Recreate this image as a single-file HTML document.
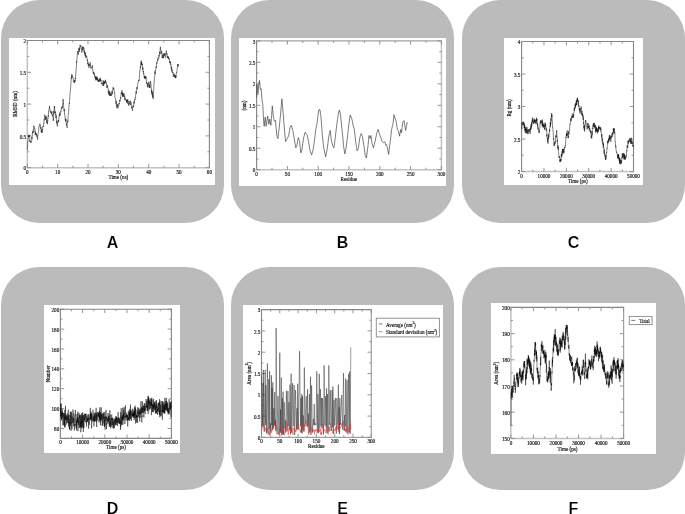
<!DOCTYPE html>
<html><head><meta charset="utf-8">
<style>
html,body{margin:0;padding:0;background:#fff;width:685px;height:514px;overflow:hidden;position:relative;font-family:"Liberation Sans",sans-serif;}
.box{position:absolute;width:223px;height:223px;background:#bbbbbb;border-radius:38px;}
.wp{position:absolute;background:#fff;}
.lbl{position:absolute;width:223px;text-align:center;font-weight:bold;font-size:16px;line-height:16px;color:#000;-webkit-text-stroke:0.18px #fff;}
svg{position:absolute;left:0;top:0;will-change:transform;}
</style></head><body>
<div class="box" style="left:1px;top:0px"></div>
<div class="box" style="left:231px;top:0px"></div>
<div class="box" style="left:462px;top:0px"></div>
<div class="box" style="left:1px;top:267px"></div>
<div class="box" style="left:231px;top:267px"></div>
<div class="box" style="left:462px;top:267px"></div>
<div class="wp" style="left:9px;top:37.9px;width:206px;height:147.1px"></div>
<div class="wp" style="left:239px;top:37.5px;width:207px;height:148px"></div>
<div class="wp" style="left:504px;top:38px;width:139px;height:147px"></div>
<div class="wp" style="left:44px;top:305px;width:136px;height:147.5px"></div>
<div class="wp" style="left:243px;top:305px;width:200px;height:147.5px"></div>
<div class="wp" style="left:490.5px;top:303px;width:165.5px;height:151px"></div>
<svg width="685" height="514" viewBox="0 0 685 514" font-family="Liberation Serif" font-size="5.7" fill="#222" stroke="#222" stroke-width="0.2">
<path d="M27.3 40L27.3 168.2" stroke="#c2c2c2" stroke-width="1.5"/>
<path d="M26.8 40.5L209.9 40.5" stroke="#858585" stroke-width="1.1"/>
<path d="M209.4 40L209.4 168.2" stroke="#858585" stroke-width="1.1"/>
<path d="M26.8 167.7L209.9 167.7" stroke="#c2c2c2" stroke-width="1.5"/>
<path d="M27.3 167.7v-3.8M27.3 40.5v3.8M42.48 167.7v-2.0M42.48 40.5v2.0M57.65 167.7v-3.8M57.65 40.5v3.8M72.83 167.7v-2.0M72.83 40.5v2.0M88 167.7v-3.8M88 40.5v3.8M103.17 167.7v-2.0M103.17 40.5v2.0M118.35 167.7v-3.8M118.35 40.5v3.8M133.53 167.7v-2.0M133.53 40.5v2.0M148.7 167.7v-3.8M148.7 40.5v3.8M163.88 167.7v-2.0M163.88 40.5v2.0M179.05 167.7v-3.8M179.05 40.5v3.8M194.22 167.7v-2.0M194.22 40.5v2.0M209.4 167.7v-3.8M209.4 40.5v3.8M27.3 167.7h3.8M209.4 167.7h-3.8M27.3 151.8h2.0M209.4 151.8h-2.0M27.3 135.9h3.8M209.4 135.9h-3.8M27.3 120h2.0M209.4 120h-2.0M27.3 104.1h3.8M209.4 104.1h-3.8M27.3 88.2h2.0M209.4 88.2h-2.0M27.3 72.3h3.8M209.4 72.3h-3.8M27.3 56.4h2.0M209.4 56.4h-2.0M27.3 40.5h3.8M209.4 40.5h-3.8" fill="none" stroke="#8a8a8a" stroke-width="0.9"/>
<text transform="translate(27.3 173.9) scale(0.9 1)" text-anchor="middle">0</text>
<text transform="translate(57.65 173.9) scale(0.9 1)" text-anchor="middle">10</text>
<text transform="translate(88 173.9) scale(0.9 1)" text-anchor="middle">20</text>
<text transform="translate(118.35 173.9) scale(0.9 1)" text-anchor="middle">30</text>
<text transform="translate(148.7 173.9) scale(0.9 1)" text-anchor="middle">40</text>
<text transform="translate(179.05 173.9) scale(0.9 1)" text-anchor="middle">50</text>
<text transform="translate(209.4 173.9) scale(0.9 1)" text-anchor="middle">60</text>
<text transform="translate(26.1 170.3) scale(0.9 1)" text-anchor="end">0</text>
<text transform="translate(26.1 138.5) scale(0.9 1)" text-anchor="end">0.5</text>
<text transform="translate(26.1 106.7) scale(0.9 1)" text-anchor="end">1</text>
<text transform="translate(26.1 74.9) scale(0.9 1)" text-anchor="end">1.5</text>
<text transform="translate(26.1 43.1) scale(0.9 1)" text-anchor="end">2</text>
<text transform="translate(118.4 179) scale(0.9 1)" text-anchor="middle">Time (ns)</text>
<text transform="translate(17.2 104) rotate(-90) scale(0.9 1)" text-anchor="middle">RMSD (nm)</text>
<path d="M256.6 40.4L256.6 170.2" stroke="#858585" stroke-width="1.1"/>
<path d="M256.1 40.9L441.9 40.9" stroke="#a0a0a0" stroke-width="1.2"/>
<path d="M441.4 40.4L441.4 170.2" stroke="#c2c2c2" stroke-width="1.5"/>
<path d="M256.1 169.7L441.9 169.7" stroke="#c2c2c2" stroke-width="1.5"/>
<path d="M256.6 169.7v-3.8M256.6 40.9v3.8M272 169.7v-2.0M272 40.9v2.0M287.4 169.7v-3.8M287.4 40.9v3.8M302.8 169.7v-2.0M302.8 40.9v2.0M318.2 169.7v-3.8M318.2 40.9v3.8M333.6 169.7v-2.0M333.6 40.9v2.0M349 169.7v-3.8M349 40.9v3.8M364.4 169.7v-2.0M364.4 40.9v2.0M379.8 169.7v-3.8M379.8 40.9v3.8M395.2 169.7v-2.0M395.2 40.9v2.0M410.6 169.7v-3.8M410.6 40.9v3.8M426 169.7v-2.0M426 40.9v2.0M441.4 169.7v-3.8M441.4 40.9v3.8M256.6 169.7h3.8M441.4 169.7h-3.8M256.6 158.97h2.0M441.4 158.97h-2.0M256.6 148.23h3.8M441.4 148.23h-3.8M256.6 137.5h2.0M441.4 137.5h-2.0M256.6 126.77h3.8M441.4 126.77h-3.8M256.6 116.03h2.0M441.4 116.03h-2.0M256.6 105.3h3.8M441.4 105.3h-3.8M256.6 94.57h2.0M441.4 94.57h-2.0M256.6 83.83h3.8M441.4 83.83h-3.8M256.6 73.1h2.0M441.4 73.1h-2.0M256.6 62.37h3.8M441.4 62.37h-3.8M256.6 51.63h2.0M441.4 51.63h-2.0M256.6 40.9h3.8M441.4 40.9h-3.8" fill="none" stroke="#8a8a8a" stroke-width="0.9"/>
<text transform="translate(256.6 175.7) scale(0.9 1)" text-anchor="middle">0</text>
<text transform="translate(287.4 175.7) scale(0.9 1)" text-anchor="middle">50</text>
<text transform="translate(318.2 175.7) scale(0.9 1)" text-anchor="middle">100</text>
<text transform="translate(349 175.7) scale(0.9 1)" text-anchor="middle">150</text>
<text transform="translate(379.8 175.7) scale(0.9 1)" text-anchor="middle">200</text>
<text transform="translate(410.6 175.7) scale(0.9 1)" text-anchor="middle">250</text>
<text transform="translate(441.4 175.7) scale(0.9 1)" text-anchor="middle">300</text>
<text transform="translate(255.4 172.3) scale(0.9 1)" text-anchor="end">0</text>
<text transform="translate(255.4 150.83) scale(0.9 1)" text-anchor="end">0.5</text>
<text transform="translate(255.4 129.37) scale(0.9 1)" text-anchor="end">1</text>
<text transform="translate(255.4 107.9) scale(0.9 1)" text-anchor="end">1.5</text>
<text transform="translate(255.4 86.43) scale(0.9 1)" text-anchor="end">2</text>
<text transform="translate(255.4 64.97) scale(0.9 1)" text-anchor="end">2.5</text>
<text transform="translate(255.4 43.5) scale(0.9 1)" text-anchor="end">3</text>
<text transform="translate(348.8 180.6) scale(0.9 1)" text-anchor="middle">Residue</text>
<text transform="translate(246.2 105.5) rotate(-90) scale(0.9 1)" text-anchor="middle">(nm)</text>
<path d="M521.6 41L521.6 172.1" stroke="#858585" stroke-width="1.1"/>
<path d="M521.1 41.5L634 41.5" stroke="#858585" stroke-width="1.1"/>
<path d="M633.5 41L633.5 172.1" stroke="#858585" stroke-width="1.1"/>
<path d="M521.1 171.6L634 171.6" stroke="#c2c2c2" stroke-width="1.5"/>
<path d="M521.6 171.6v-3.8M521.6 41.5v3.8M532.79 171.6v-2.0M532.79 41.5v2.0M543.98 171.6v-3.8M543.98 41.5v3.8M555.17 171.6v-2.0M555.17 41.5v2.0M566.36 171.6v-3.8M566.36 41.5v3.8M577.55 171.6v-2.0M577.55 41.5v2.0M588.74 171.6v-3.8M588.74 41.5v3.8M599.93 171.6v-2.0M599.93 41.5v2.0M611.12 171.6v-3.8M611.12 41.5v3.8M622.31 171.6v-2.0M622.31 41.5v2.0M633.5 171.6v-3.8M633.5 41.5v3.8M521.6 171.6h3.8M633.5 171.6h-3.8M521.6 155.34h2.0M633.5 155.34h-2.0M521.6 139.07h3.8M633.5 139.07h-3.8M521.6 122.81h2.0M633.5 122.81h-2.0M521.6 106.55h3.8M633.5 106.55h-3.8M521.6 90.29h2.0M633.5 90.29h-2.0M521.6 74.03h3.8M633.5 74.03h-3.8M521.6 57.76h2.0M633.5 57.76h-2.0M521.6 41.5h3.8M633.5 41.5h-3.8" fill="none" stroke="#8a8a8a" stroke-width="0.9"/>
<text transform="translate(521.6 177.6) scale(0.9 1)" text-anchor="middle">0</text>
<text transform="translate(543.98 177.6) scale(0.9 1)" text-anchor="middle">10000</text>
<text transform="translate(566.36 177.6) scale(0.9 1)" text-anchor="middle">20000</text>
<text transform="translate(588.74 177.6) scale(0.9 1)" text-anchor="middle">30000</text>
<text transform="translate(611.12 177.6) scale(0.9 1)" text-anchor="middle">40000</text>
<text transform="translate(633.5 177.6) scale(0.9 1)" text-anchor="middle">50000</text>
<text transform="translate(520.4 174.2) scale(0.9 1)" text-anchor="end">2</text>
<text transform="translate(520.4 141.67) scale(0.9 1)" text-anchor="end">2.5</text>
<text transform="translate(520.4 109.15) scale(0.9 1)" text-anchor="end">3</text>
<text transform="translate(520.4 76.62) scale(0.9 1)" text-anchor="end">3.5</text>
<text transform="translate(520.4 44.1) scale(0.9 1)" text-anchor="end">4</text>
<text transform="translate(577.8 182.7) scale(0.9 1)" text-anchor="middle">Time (ps)</text>
<text transform="translate(510.5 108) rotate(-90) scale(0.9 1)" text-anchor="middle">Rg (nm)</text>
<path d="M60.4 308.7L60.4 438.9" stroke="#858585" stroke-width="1.1"/>
<path d="M59.9 309.2L171.9 309.2" stroke="#858585" stroke-width="1.1"/>
<path d="M171.4 308.7L171.4 438.9" stroke="#858585" stroke-width="1.1"/>
<path d="M59.9 438.4L171.9 438.4" stroke="#858585" stroke-width="1.1"/>
<path d="M60.4 438.4v-3.8M60.4 309.2v3.8M71.5 438.4v-2.0M71.5 309.2v2.0M82.6 438.4v-3.8M82.6 309.2v3.8M93.7 438.4v-2.0M93.7 309.2v2.0M104.8 438.4v-3.8M104.8 309.2v3.8M115.9 438.4v-2.0M115.9 309.2v2.0M127 438.4v-3.8M127 309.2v3.8M138.1 438.4v-2.0M138.1 309.2v2.0M149.2 438.4v-3.8M149.2 309.2v3.8M160.3 438.4v-2.0M160.3 309.2v2.0M171.4 438.4v-3.8M171.4 309.2v3.8M60.4 438.4h2.0M171.4 438.4h-2.0M60.4 428.46h3.8M171.4 428.46h-3.8M60.4 418.52h2.0M171.4 418.52h-2.0M60.4 408.58h3.8M171.4 408.58h-3.8M60.4 398.65h2.0M171.4 398.65h-2.0M60.4 388.71h3.8M171.4 388.71h-3.8M60.4 378.77h2.0M171.4 378.77h-2.0M60.4 368.83h3.8M171.4 368.83h-3.8M60.4 358.89h2.0M171.4 358.89h-2.0M60.4 348.95h3.8M171.4 348.95h-3.8M60.4 339.02h2.0M171.4 339.02h-2.0M60.4 329.08h3.8M171.4 329.08h-3.8M60.4 319.14h2.0M171.4 319.14h-2.0M60.4 309.2h3.8M171.4 309.2h-3.8" fill="none" stroke="#8a8a8a" stroke-width="0.9"/>
<text transform="translate(60.4 444) scale(0.9 1)" text-anchor="middle">0</text>
<text transform="translate(82.6 444) scale(0.9 1)" text-anchor="middle">10000</text>
<text transform="translate(104.8 444) scale(0.9 1)" text-anchor="middle">20000</text>
<text transform="translate(127 444) scale(0.9 1)" text-anchor="middle">30000</text>
<text transform="translate(149.2 444) scale(0.9 1)" text-anchor="middle">40000</text>
<text transform="translate(171.4 444) scale(0.9 1)" text-anchor="middle">50000</text>
<text transform="translate(59.2 431.06) scale(0.9 1)" text-anchor="end">80</text>
<text transform="translate(59.2 411.18) scale(0.9 1)" text-anchor="end">100</text>
<text transform="translate(59.2 391.31) scale(0.9 1)" text-anchor="end">120</text>
<text transform="translate(59.2 371.43) scale(0.9 1)" text-anchor="end">140</text>
<text transform="translate(59.2 351.55) scale(0.9 1)" text-anchor="end">160</text>
<text transform="translate(59.2 331.68) scale(0.9 1)" text-anchor="end">180</text>
<text transform="translate(59.2 311.8) scale(0.9 1)" text-anchor="end">200</text>
<text transform="translate(116 449.4) scale(0.9 1)" text-anchor="middle">Time (ps)</text>
<text transform="translate(49.9 374) rotate(-90) scale(0.9 1)" text-anchor="middle">Number</text>
<path d="M261.5 309.1L261.5 437.9" stroke="#858585" stroke-width="1.1"/>
<path d="M261 309.6L371.8 309.6" stroke="#858585" stroke-width="1.1"/>
<path d="M371.3 309.1L371.3 437.9" stroke="#a0a0a0" stroke-width="1.2"/>
<path d="M261 437.4L371.8 437.4" stroke="#a0a0a0" stroke-width="1.2"/>
<path d="M261.5 437.4v-3.8M261.5 309.6v3.8M270.65 437.4v-2.0M270.65 309.6v2.0M279.8 437.4v-3.8M279.8 309.6v3.8M288.95 437.4v-2.0M288.95 309.6v2.0M298.1 437.4v-3.8M298.1 309.6v3.8M307.25 437.4v-2.0M307.25 309.6v2.0M316.4 437.4v-3.8M316.4 309.6v3.8M325.55 437.4v-2.0M325.55 309.6v2.0M334.7 437.4v-3.8M334.7 309.6v3.8M343.85 437.4v-2.0M343.85 309.6v2.0M353 437.4v-3.8M353 309.6v3.8M362.15 437.4v-2.0M362.15 309.6v2.0M371.3 437.4v-3.8M371.3 309.6v3.8M261.5 437.4h3.8M371.3 437.4h-3.8M261.5 426.75h2.0M371.3 426.75h-2.0M261.5 416.1h3.8M371.3 416.1h-3.8M261.5 405.45h2.0M371.3 405.45h-2.0M261.5 394.8h3.8M371.3 394.8h-3.8M261.5 384.15h2.0M371.3 384.15h-2.0M261.5 373.5h3.8M371.3 373.5h-3.8M261.5 362.85h2.0M371.3 362.85h-2.0M261.5 352.2h3.8M371.3 352.2h-3.8M261.5 341.55h2.0M371.3 341.55h-2.0M261.5 330.9h3.8M371.3 330.9h-3.8M261.5 320.25h2.0M371.3 320.25h-2.0M261.5 309.6h3.8M371.3 309.6h-3.8" fill="none" stroke="#8a8a8a" stroke-width="0.9"/>
<text transform="translate(261.5 443) scale(0.9 1)" text-anchor="middle">0</text>
<text transform="translate(279.8 443) scale(0.9 1)" text-anchor="middle">50</text>
<text transform="translate(298.1 443) scale(0.9 1)" text-anchor="middle">100</text>
<text transform="translate(316.4 443) scale(0.9 1)" text-anchor="middle">150</text>
<text transform="translate(334.7 443) scale(0.9 1)" text-anchor="middle">200</text>
<text transform="translate(353 443) scale(0.9 1)" text-anchor="middle">250</text>
<text transform="translate(371.3 443) scale(0.9 1)" text-anchor="middle">300</text>
<text transform="translate(260.3 440) scale(0.9 1)" text-anchor="end">0</text>
<text transform="translate(260.3 418.7) scale(0.9 1)" text-anchor="end">0.5</text>
<text transform="translate(260.3 397.4) scale(0.9 1)" text-anchor="end">1</text>
<text transform="translate(260.3 376.1) scale(0.9 1)" text-anchor="end">1.5</text>
<text transform="translate(260.3 354.8) scale(0.9 1)" text-anchor="end">2</text>
<text transform="translate(260.3 333.5) scale(0.9 1)" text-anchor="end">2.5</text>
<text transform="translate(260.3 312.2) scale(0.9 1)" text-anchor="end">3</text>
<text transform="translate(316.3 448.1) scale(0.9 1)" text-anchor="middle">Residue</text>
<text transform="translate(250.6 373.4) rotate(-90) scale(0.9 1)" text-anchor="middle">Area (nm<tspan font-size="3.6" dy="-2.2">2</tspan><tspan dy="2.2">)</tspan></text>
<path d="M510.9 306.9L510.9 438.9" stroke="#c2c2c2" stroke-width="1.5"/>
<path d="M510.4 307.4L624.1 307.4" stroke="#858585" stroke-width="1.1"/>
<path d="M623.6 306.9L623.6 438.9" stroke="#a0a0a0" stroke-width="1.2"/>
<path d="M510.4 438.4L624.1 438.4" stroke="#c2c2c2" stroke-width="1.5"/>
<path d="M510.9 438.4v-3.8M510.9 307.4v3.8M522.17 438.4v-2.0M522.17 307.4v2.0M533.44 438.4v-3.8M533.44 307.4v3.8M544.71 438.4v-2.0M544.71 307.4v2.0M555.98 438.4v-3.8M555.98 307.4v3.8M567.25 438.4v-2.0M567.25 307.4v2.0M578.52 438.4v-3.8M578.52 307.4v3.8M589.79 438.4v-2.0M589.79 307.4v2.0M601.06 438.4v-3.8M601.06 307.4v3.8M612.33 438.4v-2.0M612.33 307.4v2.0M623.6 438.4v-3.8M623.6 307.4v3.8M510.9 438.4h3.8M623.6 438.4h-3.8M510.9 425.3h2.0M623.6 425.3h-2.0M510.9 412.2h3.8M623.6 412.2h-3.8M510.9 399.1h2.0M623.6 399.1h-2.0M510.9 386h3.8M623.6 386h-3.8M510.9 372.9h2.0M623.6 372.9h-2.0M510.9 359.8h3.8M623.6 359.8h-3.8M510.9 346.7h2.0M623.6 346.7h-2.0M510.9 333.6h3.8M623.6 333.6h-3.8M510.9 320.5h2.0M623.6 320.5h-2.0M510.9 307.4h3.8M623.6 307.4h-3.8" fill="none" stroke="#8a8a8a" stroke-width="0.9"/>
<text transform="translate(510.9 444.5) scale(0.9 1)" text-anchor="middle">0</text>
<text transform="translate(533.44 444.5) scale(0.9 1)" text-anchor="middle">10000</text>
<text transform="translate(555.98 444.5) scale(0.9 1)" text-anchor="middle">20000</text>
<text transform="translate(578.52 444.5) scale(0.9 1)" text-anchor="middle">30000</text>
<text transform="translate(601.06 444.5) scale(0.9 1)" text-anchor="middle">40000</text>
<text transform="translate(623.6 444.5) scale(0.9 1)" text-anchor="middle">50000</text>
<text transform="translate(509.7 441) scale(0.9 1)" text-anchor="end">150</text>
<text transform="translate(509.7 414.8) scale(0.9 1)" text-anchor="end">160</text>
<text transform="translate(509.7 388.6) scale(0.9 1)" text-anchor="end">170</text>
<text transform="translate(509.7 362.4) scale(0.9 1)" text-anchor="end">180</text>
<text transform="translate(509.7 336.2) scale(0.9 1)" text-anchor="end">190</text>
<text transform="translate(509.7 310) scale(0.9 1)" text-anchor="end">200</text>
<text transform="translate(567.5 450.8) scale(0.9 1)" text-anchor="middle">Time (ps)</text>
<text transform="translate(497.9 373.3) rotate(-90) scale(0.9 1)" text-anchor="middle">Area (nm<tspan font-size="3.6" dy="-2.2">2</tspan><tspan dy="2.2">)</tspan></text>
<rect x="376.3" y="318.2" width="63.1" height="18.7" fill="none" stroke="#888" stroke-width="0.9"/>
<path d="M378.8 323.9h3.5" stroke="#555" stroke-width="0.8"/>
<path d="M378.8 331.7h3.5" stroke="#e05050" stroke-width="0.8"/>
<rect x="629.3" y="316.4" width="22.8" height="8.2" fill="none" stroke="#888" stroke-width="0.9"/>
<path d="M631.3 320.4h3.9" stroke="#555" stroke-width="0.8"/>
<text transform="translate(386 326.6) scale(0.9 1)">Average (nm<tspan font-size="3.6" dy="-2.2">2</tspan><tspan dy="2.2">)</tspan></text><text transform="translate(386 334.4) scale(0.9 1)">Standard deviation (nm<tspan font-size="3.6" dy="-2.2">2</tspan><tspan dy="2.2">)</tspan></text><text transform="translate(639.3 322.7) scale(0.9 1)">Total</text><path d="M27.1 150.2 27.3 150.1 27.4 148.8 27.6 144.6 27.8 141.4 28.0 140.9 28.1 139.4 28.3 139.0 28.5 135.4 28.6 134.8 28.8 136.9 29.0 136.1 29.1 137.0 29.3 135.7 29.5 134.9 29.7 136.6 29.8 141.8 30.0 140.3 30.2 141.5 30.3 141.3 30.5 142.7 30.7 142.5 30.8 141.6 31.0 141.8 31.2 142.0 31.4 142.3 31.5 142.5 31.7 140.6 31.9 136.8 32.0 138.8 32.2 134.8 32.4 135.2 32.5 132.3 32.7 133.0 32.9 130.7 33.1 131.1 33.2 133.0 33.4 129.0 33.6 129.3 33.7 125.7 33.9 126.1 34.1 126.5 34.2 126.3 34.4 128.0 34.6 128.7 34.8 128.3 34.9 131.5 35.1 130.7 35.3 135.0 35.4 132.2 35.6 134.0 35.8 133.4 35.9 134.8 36.1 133.1 36.3 135.4 36.5 134.3 36.6 136.6 36.8 136.2 37.0 136.1 37.1 135.4 37.3 137.9 37.5 138.0 37.6 139.6 37.8 135.7 38.0 135.7 38.2 134.3 38.3 132.8 38.5 131.4 38.7 130.1 38.8 127.8 39.0 126.0 39.2 125.8 39.3 126.1 39.5 126.3 39.7 124.6 39.9 123.7 40.0 123.7 40.2 124.5 40.4 124.8 40.5 126.6 40.7 128.8 40.9 127.1 41.0 127.5 41.2 131.9 41.4 130.7 41.6 132.6 41.7 132.3 41.9 129.1 42.1 133.0 42.2 131.8 42.4 129.1 42.6 129.3 42.7 127.9 42.9 126.0 43.1 126.4 43.3 126.5 43.4 126.8 43.6 125.0 43.8 123.0 43.9 123.4 44.1 119.4 44.3 120.2 44.4 119.4 44.6 116.4 44.8 114.6 45.0 116.0 45.1 117.7 45.3 118.3 45.5 119.8 45.6 116.7 45.8 118.3 46.0 119.3 46.1 118.6 46.3 116.3 46.5 120.7 46.7 123.1 46.8 121.9 47.0 119.8 47.2 120.9 47.3 122.1 47.5 124.2 47.7 120.6 47.8 118.5 48.0 118.9 48.2 115.4 48.4 116.5 48.5 111.8 48.7 110.6 48.9 110.8 49.0 110.3 49.2 107.9 49.4 108.0 49.5 105.9 49.7 108.0 49.9 108.8 50.1 109.5 50.2 111.6 50.4 111.0 50.6 112.7 50.7 111.9 50.9 111.6 51.1 112.3 51.2 112.9 51.4 113.7 51.6 112.1 51.8 112.6 51.9 111.3 52.1 115.3 52.3 115.8 52.4 114.4 52.6 114.6 52.8 114.3 52.9 116.9 53.1 117.6 53.3 120.9 53.5 118.3 53.6 115.0 53.8 111.1 54.0 113.9 54.1 110.4 54.3 106.1 54.5 107.8 54.6 106.6 54.8 112.8 55.0 112.4 55.2 112.8 55.3 112.9 55.5 111.5 55.7 115.2 55.8 114.3 56.0 118.1 56.2 115.5 56.3 118.1 56.5 121.9 56.7 123.4 56.9 120.8 57.0 121.3 57.2 125.4 57.4 126.4 57.5 123.5 57.7 123.1 57.9 122.2 58.0 120.7 58.2 120.4 58.4 122.1 58.6 120.5 58.7 121.4 58.9 117.7 59.1 116.8 59.2 115.1 59.4 115.7 59.6 113.7 59.7 112.6 59.9 115.3 60.1 115.8 60.3 114.5 60.4 114.6 60.6 112.7 60.8 111.0 60.9 111.5 61.1 110.4 61.3 109.0 61.4 107.7 61.6 107.5 61.8 108.8 62.0 108.1 62.1 106.4 62.3 108.0 62.5 105.4 62.6 105.0 62.8 105.0 63.0 101.4 63.1 99.0 63.3 103.9 63.5 103.5 63.7 107.5 63.8 107.7 64.0 110.1 64.2 111.2 64.3 109.0 64.5 114.1 64.7 113.8 64.8 115.1 65.0 117.0 65.2 119.4 65.4 120.3 65.5 121.3 65.7 118.6 65.9 120.8 66.0 119.4 66.2 123.1 66.4 124.8 66.5 123.8 66.7 125.9 66.9 126.7 67.1 127.8 67.2 123.9 67.4 122.2 67.6 120.7 67.7 122.4 67.9 119.9 68.1 116.8 68.2 115.6 68.4 113.9 68.6 112.4 68.8 110.2 68.9 107.9 69.1 104.5 69.3 103.1 69.4 103.9 69.6 100.3 69.8 97.5 69.9 94.9 70.1 93.1 70.3 91.5 70.5 88.2 70.6 87.3 70.8 85.4 71.0 82.1 71.1 80.1 71.3 77.9 71.5 76.5 71.6 78.7 71.8 74.3 72.0 76.6 72.2 75.9 72.3 75.6 72.5 76.2 72.7 77.7 72.8 77.3 73.0 78.0 73.2 78.3 73.3 79.9 73.5 82.2 73.7 81.4 73.9 81.4 74.0 82.0 74.2 81.6 74.4 80.5 74.5 83.1 74.7 81.4 74.9 80.0 75.0 81.5 75.2 78.1 75.4 79.2 75.6 78.6 75.7 74.9 75.9 72.4 76.1 70.4 76.2 70.0 76.4 67.7 76.6 61.6 76.7 62.8 76.9 59.2 77.1 57.6 77.3 55.7 77.4 54.4 77.6 51.4 77.8 52.0 77.9 51.3 78.1 53.1 78.3 54.8 78.4 54.6 78.6 50.8 78.8 48.6 79.0 49.8 79.1 48.6 79.3 51.9 79.5 49.6 79.6 47.4 79.8 49.1 80.0 48.1 80.1 44.8 80.3 46.1 80.5 46.3 80.7 46.5 80.8 46.5 81.0 45.7 81.2 47.4 81.3 47.6 81.5 48.4 81.7 52.6 81.8 52.3 82.0 52.3 82.2 48.7 82.4 49.7 82.5 50.1 82.7 46.5 82.9 49.2 83.0 47.1 83.2 47.9 83.4 47.1 83.5 47.3 83.7 49.3 83.9 48.4 84.1 52.1 84.2 50.2 84.4 51.1 84.6 54.1 84.7 52.1 84.9 53.4 85.1 55.4 85.2 56.1 85.4 52.5 85.6 55.8 85.8 57.9 85.9 57.3 86.1 55.9 86.3 55.8 86.4 56.5 86.6 55.8 86.8 57.3 86.9 57.8 87.1 58.3 87.3 61.1 87.5 60.3 87.6 59.8 87.8 64.1 88.0 62.4 88.1 64.3 88.3 65.8 88.5 65.6 88.6 64.4 88.8 65.1 89.0 67.9 89.2 63.9 89.3 64.2 89.5 65.6 89.7 64.7 89.8 64.8 90.0 65.5 90.2 62.4 90.3 64.3 90.5 66.2 90.7 67.2 90.9 68.7 91.0 68.2 91.2 67.6 91.4 67.8 91.5 67.2 91.7 67.6 91.9 67.9 92.0 66.3 92.2 65.5 92.4 65.2 92.6 68.8 92.7 70.2 92.9 71.1 93.1 72.1 93.2 73.3 93.4 72.7 93.6 73.9 93.7 71.9 93.9 73.4 94.1 73.0 94.3 75.2 94.4 73.8 94.6 74.7 94.8 76.0 94.9 77.9 95.1 75.9 95.3 76.4 95.4 79.4 95.6 77.6 95.8 80.3 96.0 79.4 96.1 79.5 96.3 76.7 96.5 79.5 96.6 77.5 96.8 76.5 97.0 79.8 97.1 77.8 97.3 80.4 97.5 78.5 97.7 78.0 97.8 79.1 98.0 81.6 98.2 80.0 98.3 81.2 98.5 81.8 98.7 79.8 98.8 81.1 99.0 80.2 99.2 79.2 99.4 81.8 99.5 81.5 99.7 80.6 99.9 79.3 100.0 77.7 100.2 80.9 100.4 80.4 100.5 78.8 100.7 81.3 100.9 79.8 101.1 82.2 101.2 82.8 101.4 83.5 101.6 83.8 101.7 84.2 101.9 82.9 102.1 84.0 102.2 83.7 102.4 83.9 102.6 84.4 102.8 84.7 102.9 85.8 103.1 80.5 103.3 83.9 103.4 83.0 103.6 86.0 103.8 84.1 103.9 80.7 104.1 83.3 104.3 82.0 104.5 83.9 104.6 81.2 104.8 82.3 105.0 82.2 105.1 82.2 105.3 81.5 105.5 79.8 105.6 82.7 105.8 83.3 106.0 82.4 106.2 81.8 106.3 84.0 106.5 85.1 106.7 84.8 106.8 85.7 107.0 88.1 107.2 85.5 107.3 86.8 107.5 85.6 107.7 87.6 107.9 88.1 108.0 88.3 108.2 89.2 108.4 92.9 108.5 90.8 108.7 91.5 108.9 95.0 109.0 92.5 109.2 90.7 109.4 93.8 109.6 92.4 109.7 96.1 109.9 92.7 110.1 93.9 110.2 92.9 110.4 95.4 110.6 94.3 110.7 95.9 110.9 95.0 111.1 94.2 111.3 95.7 111.4 95.2 111.6 93.6 111.8 91.8 111.9 91.1 112.1 92.3 112.3 94.4 112.4 90.3 112.6 89.3 112.8 88.8 113.0 87.6 113.1 87.1 113.3 87.4 113.5 89.5 113.6 88.6 113.8 88.9 114.0 88.5 114.1 91.8 114.3 92.5 114.5 92.0 114.7 93.1 114.8 95.3 115.0 97.5 115.2 97.9 115.3 98.2 115.5 98.3 115.7 100.0 115.8 100.4 116.0 104.1 116.2 100.8 116.4 102.8 116.5 105.9 116.7 104.9 116.9 108.1 117.0 106.3 117.2 106.4 117.4 105.5 117.5 104.0 117.7 104.4 117.9 108.4 118.1 106.2 118.2 105.9 118.4 106.2 118.6 105.5 118.7 105.7 118.9 103.5 119.1 103.1 119.2 104.2 119.4 101.9 119.6 100.2 119.8 101.1 119.9 100.2 120.1 101.2 120.3 99.0 120.4 97.9 120.6 97.5 120.8 98.6 120.9 95.2 121.1 94.1 121.3 92.6 121.5 92.1 121.6 93.1 121.8 94.0 122.0 90.3 122.1 94.5 122.3 92.9 122.5 92.8 122.6 96.5 122.8 93.6 123.0 96.7 123.2 95.8 123.3 93.6 123.5 95.9 123.7 96.6 123.8 95.8 124.0 93.3 124.2 96.1 124.3 96.7 124.5 95.8 124.7 99.9 124.9 97.5 125.0 97.7 125.2 98.1 125.4 97.9 125.5 98.3 125.7 99.8 125.9 100.6 126.0 99.9 126.2 100.9 126.4 99.6 126.6 102.5 126.7 101.0 126.9 102.1 127.1 100.4 127.2 100.6 127.4 101.4 127.6 99.3 127.7 103.6 127.9 100.4 128.1 101.2 128.3 101.2 128.4 105.1 128.6 105.7 128.8 105.1 128.9 102.6 129.1 103.4 129.3 104.5 129.4 102.7 129.6 101.5 129.8 101.1 130.0 101.3 130.1 102.0 130.3 100.8 130.5 101.4 130.6 104.9 130.8 105.1 131.0 102.3 131.1 104.9 131.3 105.4 131.5 106.0 131.7 108.4 131.8 107.4 132.0 108.3 132.2 109.1 132.3 109.6 132.5 110.8 132.7 109.5 132.8 106.2 133.0 106.8 133.2 105.7 133.4 107.2 133.5 105.9 133.7 106.1 133.9 104.3 134.0 101.3 134.2 103.6 134.4 102.5 134.5 102.1 134.7 99.0 134.9 100.0 135.1 98.3 135.2 97.5 135.4 98.1 135.6 97.3 135.7 94.9 135.9 92.9 136.1 91.1 136.2 92.3 136.4 93.5 136.6 90.9 136.8 87.1 136.9 87.9 137.1 88.5 137.3 89.1 137.4 87.4 137.6 85.6 137.8 84.7 137.9 82.4 138.1 82.5 138.3 81.9 138.5 80.7 138.6 81.1 138.8 79.8 139.0 80.1 139.1 80.8 139.3 78.9 139.5 76.8 139.6 74.2 139.8 70.8 140.0 70.8 140.2 70.0 140.3 66.5 140.5 68.0 140.7 64.4 140.8 63.9 141.0 61.5 141.2 60.7 141.3 65.4 141.5 61.7 141.7 64.8 141.8 63.3 142.0 64.8 142.2 63.8 142.4 64.8 142.5 67.4 142.7 69.9 142.9 67.4 143.0 69.6 143.2 71.9 143.4 71.0 143.5 73.8 143.7 72.8 143.9 75.4 144.1 76.0 144.2 77.9 144.4 77.6 144.6 76.0 144.7 78.3 144.9 75.9 145.1 78.2 145.2 79.1 145.4 77.8 145.6 76.2 145.8 78.4 145.9 77.2 146.1 76.9 146.3 79.5 146.4 83.3 146.6 82.5 146.8 83.8 146.9 83.9 147.1 82.9 147.3 85.1 147.5 86.9 147.6 87.4 147.8 86.4 148.0 83.1 148.1 86.8 148.3 85.4 148.5 85.1 148.6 84.7 148.8 81.8 149.0 82.0 149.2 84.5 149.3 87.7 149.5 84.7 149.7 88.0 149.8 87.3 150.0 87.6 150.2 87.4 150.3 83.7 150.5 81.0 150.7 82.9 150.9 84.2 151.0 84.2 151.2 89.0 151.4 88.8 151.5 91.8 151.7 90.0 151.9 93.9 152.0 91.3 152.2 95.3 152.4 92.4 152.6 97.3 152.7 95.8 152.9 95.0 153.1 97.5 153.2 99.0 153.4 94.5 153.6 92.2 153.7 90.2 153.9 86.7 154.1 80.9 154.3 81.0 154.4 79.8 154.6 77.3 154.8 75.9 154.9 71.4 155.1 74.1 155.3 71.5 155.4 70.2 155.6 70.6 155.8 69.8 156.0 68.0 156.1 66.5 156.3 68.0 156.5 66.4 156.6 62.4 156.8 62.4 157.0 63.5 157.1 62.0 157.3 61.2 157.5 60.7 157.7 59.3 157.8 60.8 158.0 57.6 158.2 57.5 158.3 58.1 158.5 58.3 158.7 58.0 158.8 58.5 159.0 55.1 159.2 56.4 159.4 54.7 159.5 51.8 159.7 52.2 159.9 54.2 160.0 51.7 160.2 49.2 160.4 46.8 160.5 49.2 160.7 49.6 160.9 50.9 161.1 54.1 161.2 52.4 161.4 52.2 161.6 50.9 161.7 51.1 161.9 53.1 162.1 53.4 162.2 57.8 162.4 55.0 162.6 55.4 162.8 58.4 162.9 57.5 163.1 55.3 163.3 58.1 163.4 55.5 163.6 53.7 163.8 55.4 163.9 55.1 164.1 53.6 164.3 55.4 164.5 56.0 164.6 54.2 164.8 53.1 165.0 53.2 165.1 56.4 165.3 57.6 165.5 56.8 165.6 56.7 165.8 56.7 166.0 53.7 166.2 54.5 166.3 50.5 166.5 53.5 166.7 53.7 166.8 53.7 167.0 53.9 167.2 53.6 167.3 55.9 167.5 58.0 167.7 56.3 167.9 57.8 168.0 56.6 168.2 58.1 168.4 56.7 168.5 58.9 168.7 58.4 168.9 59.4 169.0 58.6 169.2 58.3 169.4 59.8 169.6 62.0 169.7 63.1 169.9 61.1 170.1 63.0 170.2 63.3 170.4 63.3 170.6 61.8 170.7 65.2 170.9 64.5 171.1 68.3 171.3 68.8 171.4 69.6 171.6 66.7 171.8 71.0 171.9 71.6 172.1 69.5 172.3 72.9 172.4 72.2 172.6 72.4 172.8 72.2 173.0 72.1 173.1 73.0 173.3 76.8 173.5 74.3 173.6 74.5 173.8 73.6 174.0 73.9 174.1 74.2 174.3 74.0 174.5 76.6 174.7 75.4 174.8 77.2 175.0 74.9 175.2 77.9 175.3 77.0 175.5 78.2 175.7 77.3 175.8 75.5 176.0 77.4 176.2 74.4 176.4 73.9 176.5 72.2 176.7 72.7 176.9 71.1 177.0 70.7 177.2 69.4 177.4 66.7 177.5 64.3 177.7 65.3 177.9 66.0 178.1 66.0 178.2 64.0 178.4 66.6 178.6 66.7" fill="none" stroke="#1a1a1a" stroke-width="0.55"/>
<path d="M256.6 97.8 257.0 84.5 257.9 93.7 258.7 84.5 259.5 80.4 260.3 89.6 261.1 88.6 262.1 100.8 262.8 104.9 263.6 121.2 264.2 126.3 265.2 117.1 266.2 126.3 266.9 121.2 267.7 116.1 268.9 124.3 269.7 119.2 270.9 125.3 271.6 115.8 272.3 105.9 273.4 117.1 274.4 121.2 275.4 120.2 276.2 128.5 277.0 136.5 277.9 138.6 278.5 133.6 279.1 129.4 279.8 121.8 280.5 115.1 281.2 106.8 281.9 98.8 282.5 105.7 283.2 113.1 283.9 122.6 284.6 131.4 285.6 141.6 286.4 140.3 287.2 138.6 287.9 137.2 288.7 135.5 289.4 131.5 290.1 127.3 291.3 125.3 292.1 128.0 292.8 130.4 293.5 134.1 294.2 138.6 295.0 143.1 295.8 147.8 296.8 145.7 297.6 141.3 298.3 137.6 299.5 141.6 300.2 147.7 300.9 152.9 301.9 149.8 302.8 143.3 303.6 137.6 304.3 135.3 305.0 132.4 305.7 132.7 306.3 134.0 307.0 134.5 307.8 137.9 308.5 141.6 309.3 146.1 310.1 150.8 310.9 153.2 311.7 154.9 312.4 151.9 313.2 149.8 313.9 144.3 314.6 139.6 315.8 129.4 316.5 126.2 317.2 122.2 317.9 116.1 318.7 110.0 319.9 109.5 321.0 117.1 321.7 125.9 322.4 135.5 323.2 143.1 324.1 149.8 324.9 153.8 325.7 156.9 326.4 153.0 327.1 149.8 327.9 143.6 328.6 137.6 329.4 133.6 330.2 130.4 331.2 139.6 331.9 142.5 332.7 145.7 333.9 147.8 334.6 142.8 335.3 137.6 336.0 131.1 336.7 125.3 337.5 119.4 338.4 113.1 339.4 110.0 340.4 114.1 341.2 121.3 342.0 129.4 342.8 137.2 343.5 145.7 344.2 150.1 344.9 153.9 345.5 150.8 346.1 147.8 346.9 141.6 347.6 135.5 348.3 129.5 349.0 123.3 350.2 115.1 350.9 116.6 351.6 118.2 352.4 121.6 353.1 125.3 354.3 129.4 355.0 135.0 355.7 141.6 356.4 146.4 357.1 150.8 357.8 149.8 358.4 147.8 359.1 143.2 359.8 137.6 360.5 135.7 361.2 133.5 362.4 136.5 363.1 141.0 363.9 145.7 364.6 150.7 365.3 155.9 366.5 158.0 367.2 152.0 368.0 145.7 369.0 135.5 370.0 138.6 371.0 135.5 372.0 143.7 372.8 145.9 373.5 147.8 374.3 144.3 375.1 141.6 375.9 137.3 376.7 133.5 377.4 131.3 378.2 129.4 378.9 132.0 379.6 134.5 380.8 137.6 381.5 139.9 382.2 141.6 382.9 142.2 383.6 142.8 384.3 141.9 385.0 142.0 385.8 145.3 386.6 144.5 387.4 147.8 388.0 151.4 388.6 154.4 389.6 146.1 390.7 137.9 391.6 129.6 392.2 127.0 392.9 124.6 394.0 114.7 395.2 118.8 396.2 121.3 397.4 129.6 398.5 131.2 399.5 136.2 400.7 129.6 401.5 132.9 402.1 127.5 402.8 122.1 404.0 120.5 404.8 125.5 405.6 130.4 406.4 126.3 407.3 122.1" fill="none" stroke="#444" stroke-width="0.7"/>
<path d="M521.7 127.1 521.8 129.2 522.0 124.6 522.1 122.3 522.2 125.2 522.4 125.2 522.5 124.2 522.6 123.9 522.7 122.9 522.9 122.2 523.0 122.0 523.1 123.0 523.3 122.8 523.4 125.2 523.5 124.7 523.6 121.6 523.8 125.0 523.9 124.3 524.0 126.7 524.2 127.9 524.3 126.8 524.4 123.4 524.6 128.0 524.7 124.8 524.8 130.6 524.9 127.3 525.1 128.6 525.2 132.5 525.3 126.9 525.5 130.4 525.6 129.0 525.7 130.4 525.9 130.4 526.0 133.5 526.1 132.1 526.2 132.7 526.4 132.7 526.5 128.2 526.6 133.0 526.8 129.7 526.9 126.7 527.0 128.2 527.2 131.3 527.3 132.0 527.4 129.6 527.5 131.5 527.7 132.3 527.8 134.1 527.9 132.3 528.1 133.8 528.2 130.1 528.3 129.9 528.5 131.8 528.6 131.4 528.7 129.6 528.8 130.3 529.0 129.1 529.1 129.7 529.2 131.0 529.4 130.6 529.5 131.8 529.6 130.4 529.8 130.8 529.9 128.7 530.0 133.8 530.1 133.2 530.3 133.2 530.4 128.2 530.5 129.7 530.7 128.7 530.8 125.7 530.9 129.5 531.1 129.2 531.2 124.0 531.3 126.1 531.4 127.6 531.6 121.9 531.7 125.2 531.8 125.6 532.0 125.6 532.1 119.4 532.2 119.4 532.4 121.0 532.5 122.2 532.6 117.5 532.7 118.7 532.9 118.4 533.0 122.6 533.1 120.0 533.3 122.3 533.4 122.8 533.5 124.0 533.7 122.8 533.8 122.4 533.9 123.6 534.0 122.1 534.2 118.8 534.3 119.8 534.4 122.1 534.6 120.5 534.7 119.4 534.8 120.2 535.0 123.0 535.1 119.9 535.2 121.1 535.3 121.4 535.5 120.4 535.6 123.2 535.7 122.9 535.9 122.4 536.0 119.6 536.1 124.3 536.3 123.2 536.4 121.5 536.5 117.7 536.6 121.1 536.8 118.9 536.9 120.3 537.0 119.6 537.2 119.6 537.3 123.9 537.4 123.5 537.6 126.6 537.7 123.9 537.8 126.4 537.9 129.7 538.1 128.5 538.2 127.3 538.3 127.6 538.5 128.7 538.6 130.2 538.7 132.2 538.9 131.9 539.0 132.8 539.1 132.4 539.2 130.7 539.4 132.3 539.5 130.8 539.6 128.6 539.8 127.6 539.9 126.8 540.0 124.5 540.2 122.4 540.3 123.8 540.4 121.8 540.5 122.7 540.7 120.3 540.8 121.6 540.9 121.9 541.1 120.8 541.2 122.0 541.3 120.5 541.5 121.1 541.6 123.4 541.7 122.7 541.8 122.2 542.0 121.0 542.1 123.9 542.2 126.2 542.4 119.5 542.5 125.3 542.6 124.2 542.8 126.0 542.9 126.4 543.0 122.8 543.1 127.9 543.3 124.1 543.4 124.9 543.5 126.7 543.7 125.7 543.8 126.6 543.9 125.4 544.1 124.8 544.2 126.8 544.3 125.1 544.4 129.6 544.6 127.7 544.7 129.4 544.8 124.6 545.0 122.9 545.1 122.6 545.2 125.3 545.4 123.5 545.5 126.7 545.6 124.1 545.7 124.8 545.9 128.3 546.0 127.6 546.1 130.1 546.3 130.9 546.4 130.6 546.5 128.5 546.7 130.1 546.8 136.5 546.9 134.4 547.0 136.9 547.2 138.2 547.3 139.6 547.4 140.9 547.6 141.8 547.7 141.6 547.8 138.1 548.0 143.7 548.1 139.7 548.2 136.7 548.3 139.0 548.5 138.4 548.6 133.8 548.7 134.6 548.9 137.2 549.0 134.6 549.1 133.5 549.3 133.5 549.4 130.6 549.5 129.4 549.6 131.7 549.8 127.7 549.9 126.9 550.0 127.2 550.2 125.3 550.3 122.1 550.4 126.7 550.6 122.3 550.7 124.7 550.8 121.5 550.9 118.1 551.1 121.5 551.2 118.0 551.3 116.2 551.5 117.2 551.6 113.1 551.7 116.9 551.9 114.5 552.0 114.8 552.1 115.5 552.2 120.3 552.4 121.7 552.5 125.0 552.6 128.0 552.8 127.7 552.9 129.3 553.0 132.0 553.2 132.3 553.3 135.0 553.4 139.6 553.5 139.0 553.7 138.4 553.8 141.7 553.9 143.3 554.1 146.0 554.2 142.8 554.3 143.0 554.5 145.3 554.6 145.5 554.7 145.4 554.8 143.2 555.0 143.6 555.1 141.3 555.2 143.2 555.4 141.0 555.5 140.7 555.6 138.0 555.8 135.4 555.9 137.1 556.0 136.1 556.1 137.3 556.3 136.2 556.4 133.6 556.5 132.7 556.7 130.2 556.8 133.0 556.9 135.1 557.1 135.6 557.2 136.1 557.3 141.8 557.4 139.7 557.6 145.8 557.7 146.3 557.8 148.2 558.0 145.3 558.1 149.1 558.2 146.8 558.4 149.9 558.5 149.1 558.6 151.5 558.7 152.9 558.9 156.5 559.0 157.7 559.1 156.2 559.3 157.4 559.4 157.2 559.5 157.3 559.7 156.6 559.8 159.8 559.9 161.6 560.0 159.6 560.2 162.0 560.3 159.1 560.4 159.0 560.6 159.5 560.7 161.5 560.8 158.7 561.0 160.6 561.1 158.3 561.2 156.3 561.3 154.1 561.5 156.1 561.6 154.6 561.7 157.2 561.9 155.7 562.0 151.4 562.1 155.1 562.3 153.9 562.4 148.9 562.5 150.5 562.6 152.5 562.8 149.1 562.9 150.4 563.0 152.3 563.2 151.6 563.3 151.7 563.4 151.7 563.6 148.9 563.7 153.5 563.8 150.7 563.9 152.7 564.1 148.5 564.2 149.5 564.3 148.7 564.5 147.5 564.6 147.8 564.7 147.3 564.9 147.9 565.0 146.6 565.1 145.7 565.2 145.6 565.4 146.3 565.5 143.1 565.6 143.1 565.8 141.4 565.9 137.0 566.0 137.9 566.2 137.0 566.3 135.3 566.4 135.8 566.5 133.1 566.7 135.9 566.8 133.8 566.9 136.1 567.1 134.0 567.2 130.5 567.3 133.0 567.5 134.2 567.6 133.7 567.7 135.0 567.8 134.5 568.0 135.9 568.1 138.2 568.2 136.2 568.4 137.9 568.5 131.3 568.6 132.6 568.8 132.4 568.9 134.6 569.0 133.1 569.1 131.5 569.3 130.9 569.4 131.2 569.5 128.9 569.7 126.6 569.8 126.6 569.9 124.3 570.1 124.4 570.2 124.7 570.3 122.5 570.4 122.8 570.6 121.1 570.7 118.9 570.8 118.1 571.0 121.2 571.1 119.5 571.2 120.3 571.4 118.2 571.5 117.7 571.6 117.6 571.7 116.0 571.9 118.4 572.0 117.2 572.1 115.8 572.3 113.6 572.4 114.6 572.5 116.1 572.7 117.9 572.8 116.0 572.9 116.2 573.0 117.3 573.2 116.8 573.3 116.5 573.4 114.1 573.6 117.4 573.7 114.5 573.8 113.0 574.0 113.0 574.1 110.3 574.2 109.0 574.3 108.1 574.5 111.0 574.6 107.5 574.7 109.2 574.9 106.3 575.0 104.6 575.1 105.9 575.3 105.1 575.4 104.5 575.5 107.9 575.6 104.8 575.8 103.1 575.9 105.3 576.0 103.0 576.2 105.4 576.3 100.4 576.4 104.6 576.6 100.6 576.7 100.9 576.8 102.2 576.9 99.8 577.1 98.5 577.2 100.3 577.3 100.2 577.5 97.6 577.6 101.8 577.7 99.4 577.9 100.4 578.0 101.7 578.1 102.8 578.2 105.2 578.4 100.6 578.5 104.8 578.6 106.9 578.8 106.5 578.9 106.6 579.0 105.6 579.2 108.8 579.3 108.1 579.4 109.9 579.5 108.6 579.7 110.6 579.8 111.7 579.9 109.8 580.1 113.7 580.2 111.3 580.3 109.0 580.5 110.3 580.6 110.6 580.7 109.4 580.8 107.9 581.0 108.9 581.1 106.6 581.2 106.6 581.4 111.9 581.5 113.4 581.6 114.1 581.8 115.0 581.9 114.3 582.0 110.9 582.1 112.2 582.3 115.6 582.4 113.6 582.5 114.4 582.7 115.6 582.8 116.9 582.9 114.6 583.1 118.2 583.2 120.1 583.3 116.9 583.4 123.4 583.6 124.0 583.7 122.4 583.8 127.8 584.0 126.3 584.1 127.3 584.2 130.0 584.4 124.7 584.5 129.2 584.6 131.6 584.7 131.3 584.9 128.0 585.0 126.9 585.1 125.0 585.3 124.9 585.4 123.2 585.5 120.3 585.7 121.9 585.8 120.4 585.9 121.5 586.0 122.4 586.2 123.0 586.3 124.6 586.4 124.9 586.6 125.0 586.7 125.2 586.8 126.7 587.0 126.6 587.1 126.8 587.2 129.3 587.3 127.3 587.5 126.1 587.6 123.2 587.7 124.2 587.9 123.1 588.0 128.0 588.1 128.3 588.3 125.9 588.4 126.0 588.5 127.8 588.6 128.1 588.8 124.4 588.9 127.1 589.0 127.2 589.2 125.8 589.3 130.5 589.4 129.7 589.6 127.7 589.7 128.9 589.8 128.4 589.9 128.8 590.1 129.3 590.2 132.0 590.3 130.6 590.5 130.3 590.6 130.7 590.7 133.1 590.9 131.9 591.0 131.4 591.1 134.7 591.2 138.4 591.4 135.3 591.5 137.4 591.6 137.0 591.8 138.1 591.9 135.6 592.0 131.4 592.2 135.3 592.3 131.0 592.4 128.2 592.5 127.8 592.7 128.0 592.8 129.0 592.9 125.9 593.1 124.4 593.2 127.1 593.3 126.8 593.5 123.2 593.6 124.4 593.7 125.1 593.8 124.2 594.0 123.4 594.1 127.1 594.2 123.7 594.4 122.8 594.5 127.2 594.6 128.4 594.8 128.2 594.9 125.8 595.0 127.0 595.1 125.9 595.3 127.2 595.4 124.9 595.5 127.3 595.7 131.4 595.8 127.4 595.9 132.7 596.1 130.2 596.2 126.7 596.3 131.7 596.4 128.5 596.6 131.2 596.7 130.0 596.8 129.8 597.0 130.2 597.1 128.3 597.2 129.3 597.4 130.0 597.5 133.5 597.6 129.2 597.7 130.5 597.9 130.4 598.0 131.5 598.1 128.7 598.3 129.2 598.4 127.0 598.5 131.8 598.7 125.5 598.8 128.4 598.9 127.3 599.0 128.1 599.2 126.8 599.3 126.8 599.4 129.2 599.6 129.0 599.7 127.2 599.8 127.1 600.0 128.0 600.1 128.0 600.2 129.3 600.3 130.3 600.5 130.2 600.6 127.1 600.7 130.1 600.9 128.8 601.0 132.1 601.1 131.6 601.3 133.3 601.4 133.4 601.5 135.9 601.6 137.4 601.8 136.1 601.9 134.1 602.0 137.4 602.2 141.6 602.3 137.9 602.4 139.8 602.6 144.2 602.7 144.5 602.8 143.6 602.9 143.7 603.1 141.9 603.2 147.8 603.3 147.4 603.5 143.7 603.6 147.1 603.7 147.8 603.9 148.6 604.0 148.3 604.1 153.6 604.2 149.4 604.4 154.1 604.5 153.5 604.6 153.3 604.8 154.9 604.9 156.3 605.0 154.5 605.2 156.1 605.3 159.7 605.4 160.1 605.5 160.0 605.7 157.0 605.8 155.2 605.9 159.5 606.1 158.5 606.2 155.8 606.3 154.6 606.5 152.4 606.6 152.8 606.7 153.0 606.8 151.2 607.0 148.0 607.1 148.5 607.2 146.0 607.4 145.8 607.5 143.3 607.6 140.9 607.8 142.0 607.9 143.5 608.0 141.1 608.1 142.8 608.3 140.2 608.4 141.0 608.5 139.1 608.7 141.8 608.8 138.3 608.9 138.7 609.1 140.3 609.2 140.5 609.3 135.6 609.4 139.8 609.6 135.1 609.7 135.4 609.8 135.8 610.0 139.1 610.1 135.7 610.2 138.7 610.4 138.6 610.5 137.8 610.6 139.0 610.7 141.9 610.9 141.4 611.0 136.9 611.1 138.4 611.3 136.9 611.4 137.0 611.5 135.9 611.7 137.4 611.8 134.6 611.9 133.6 612.0 135.4 612.2 135.5 612.3 136.7 612.4 135.4 612.6 132.5 612.7 132.0 612.8 133.8 613.0 133.4 613.1 133.8 613.2 134.4 613.3 128.2 613.5 130.2 613.6 131.8 613.7 128.6 613.9 132.8 614.0 129.4 614.1 130.1 614.3 128.3 614.4 128.8 614.5 130.8 614.6 133.2 614.8 132.1 614.9 133.3 615.0 138.5 615.2 142.1 615.3 141.8 615.4 143.2 615.6 146.6 615.7 147.2 615.8 145.7 615.9 148.9 616.1 149.5 616.2 150.6 616.3 150.8 616.5 152.4 616.6 151.8 616.7 152.9 616.9 152.8 617.0 152.9 617.1 152.8 617.2 154.7 617.4 155.3 617.5 157.5 617.6 158.5 617.8 154.1 617.9 154.4 618.0 157.6 618.2 155.3 618.3 156.5 618.4 154.4 618.5 157.8 618.7 154.6 618.8 159.2 618.9 156.6 619.1 158.8 619.2 160.6 619.3 158.0 619.5 159.7 619.6 163.8 619.7 158.5 619.8 161.6 620.0 158.5 620.1 162.9 620.2 162.0 620.4 160.4 620.5 160.3 620.6 164.4 620.8 163.4 620.9 160.2 621.0 163.7 621.1 160.7 621.3 160.9 621.4 162.9 621.5 161.0 621.7 161.1 621.8 161.1 621.9 157.2 622.1 158.2 622.2 156.8 622.3 153.3 622.4 157.4 622.6 157.6 622.7 153.5 622.8 155.2 623.0 157.3 623.1 157.1 623.2 154.9 623.4 155.0 623.5 154.8 623.6 153.2 623.7 155.8 623.9 159.3 624.0 153.7 624.1 156.3 624.3 155.0 624.4 159.4 624.5 154.3 624.7 158.9 624.8 158.4 624.9 156.4 625.0 157.0 625.2 157.4 625.3 159.9 625.4 157.2 625.6 158.4 625.7 157.9 625.8 156.0 626.0 155.6 626.1 155.2 626.2 157.2 626.3 155.7 626.5 154.3 626.6 150.6 626.7 150.3 626.9 151.2 627.0 148.7 627.1 145.8 627.3 145.0 627.4 147.7 627.5 147.6 627.6 146.6 627.8 147.7 627.9 141.8 628.0 140.8 628.2 143.4 628.3 144.1 628.4 140.7 628.6 142.4 628.7 142.3 628.8 140.7 628.9 139.9 629.1 140.6 629.2 140.8 629.3 142.0 629.5 140.1 629.6 138.7 629.7 138.4 629.9 139.4 630.0 140.9 630.1 138.5 630.2 139.2 630.4 140.6 630.5 140.1 630.6 143.1 630.8 140.8 630.9 141.3 631.0 143.9 631.2 137.6 631.3 138.1 631.4 140.0 631.5 141.8 631.7 143.9 631.8 143.3 631.9 141.6 632.1 140.5 632.2 143.9 632.3 143.2 632.5 142.4 632.6 142.3 632.7 146.0 632.8 145.0 633.0 146.5 633.1 146.6 633.2 146.1 633.4 147.2" fill="none" stroke="#111" stroke-width="0.5"/>
<path d="M510.9 426.0 511.0 417.4 511.1 402.0 511.2 392.4 511.3 397.1 511.4 398.7 511.5 394.6 511.6 389.2 511.7 391.1 511.8 396.2 511.9 386.0 512.0 392.6 512.1 389.7 512.2 388.4 512.3 388.2 512.4 386.1 512.5 389.6 512.6 397.9 512.7 393.1 512.8 391.8 512.9 387.5 513.0 389.3 513.1 392.1 513.2 392.5 513.3 389.5 513.4 388.2 513.5 386.9 513.6 385.0 513.7 386.0 513.8 381.2 513.9 383.9 514.0 379.1 514.1 374.8 514.2 376.4 514.3 380.4 514.4 380.2 514.5 378.3 514.6 380.3 514.7 383.9 514.8 385.2 514.9 387.2 515.0 382.3 515.1 386.8 515.2 389.5 515.3 387.9 515.4 392.9 515.5 386.4 515.6 387.0 515.7 386.8 515.8 384.1 515.9 384.3 516.0 384.3 516.1 382.6 516.2 380.3 516.3 379.6 516.4 379.9 516.5 374.5 516.6 379.0 516.7 374.1 516.8 376.0 516.9 372.4 517.0 375.3 517.1 374.5 517.2 375.5 517.3 374.7 517.4 378.0 517.5 383.3 517.6 373.3 517.7 381.3 517.8 381.0 517.9 379.8 518.0 377.6 518.1 387.2 518.2 383.5 518.3 386.8 518.4 381.4 518.5 379.2 518.6 384.0 518.7 381.9 518.8 377.7 518.9 376.9 519.0 378.6 519.1 373.1 519.2 372.0 519.3 373.5 519.4 375.8 519.5 374.3 519.6 371.2 519.7 373.8 519.8 368.1 519.9 367.9 520.0 377.5 520.1 369.4 520.2 373.6 520.3 374.3 520.4 373.7 520.5 374.8 520.6 377.1 520.7 377.4 520.8 374.7 520.9 377.3 521.0 382.4 521.1 381.1 521.2 378.3 521.3 380.6 521.4 376.9 521.5 375.5 521.6 377.5 521.7 383.7 521.8 376.3 521.9 371.6 522.0 377.0 522.1 374.8 522.2 378.8 522.3 379.9 522.4 374.5 522.5 375.5 522.6 371.9 522.7 378.0 522.8 371.5 522.9 373.5 523.0 380.4 523.1 369.3 523.2 372.1 523.3 370.7 523.4 371.6 523.5 370.9 523.6 373.4 523.7 369.6 523.8 369.3 523.9 362.9 524.0 367.3 524.1 361.2 524.2 368.4 524.3 363.7 524.4 366.2 524.5 361.0 524.6 362.6 524.7 361.4 524.8 364.9 524.9 364.9 525.0 365.4 525.1 368.1 525.2 369.2 525.3 370.4 525.4 371.5 525.5 372.8 525.6 385.2 525.7 376.2 525.8 374.1 525.9 379.8 526.0 376.7 526.1 374.5 526.2 377.6 526.3 379.0 526.4 369.6 526.5 375.8 526.6 372.3 526.7 373.3 526.8 367.1 526.9 373.1 527.0 370.6 527.1 358.6 527.2 369.2 527.3 368.5 527.4 359.7 527.5 364.6 527.6 362.7 527.7 363.5 527.8 359.8 527.9 364.1 528.0 364.0 528.1 361.0 528.2 360.7 528.3 355.2 528.4 361.9 528.5 355.9 528.6 359.5 528.7 356.6 528.8 366.2 528.9 358.3 529.0 362.7 529.1 358.5 529.2 359.2 529.3 362.4 529.4 360.7 529.5 368.8 529.6 361.7 529.7 368.0 529.8 359.9 529.9 361.5 530.0 367.1 530.1 361.5 530.2 372.6 530.3 368.9 530.4 368.2 530.5 374.2 530.6 367.5 530.7 367.2 530.8 362.4 530.9 364.3 531.0 369.8 531.1 364.7 531.2 374.0 531.3 375.1 531.4 373.9 531.5 367.8 531.6 370.6 531.7 369.4 531.8 376.4 531.9 377.8 532.0 374.3 532.1 375.6 532.2 376.4 532.3 378.3 532.4 373.5 532.5 373.7 532.6 379.5 532.7 379.0 532.8 379.2 532.9 378.2 533.0 380.8 533.1 380.2 533.2 377.1 533.3 384.7 533.4 380.6 533.5 374.3 533.6 372.6 533.7 368.5 533.8 364.2 533.9 363.1 534.0 359.8 534.1 360.1 534.2 361.7 534.3 359.0 534.4 353.2 534.5 355.6 534.6 352.8 534.7 349.8 534.8 355.3 534.9 347.0 535.0 351.7 535.1 342.0 535.2 346.8 535.3 342.2 535.4 346.0 535.5 345.4 535.6 342.8 535.7 348.5 535.8 351.7 535.9 353.1 536.0 354.7 536.1 350.1 536.2 359.3 536.3 351.8 536.4 354.7 536.5 351.8 536.6 357.4 536.7 355.0 536.8 361.4 536.9 357.0 537.0 369.9 537.1 368.1 537.2 372.1 537.3 372.2 537.4 370.5 537.5 373.0 537.6 373.6 537.7 367.6 537.8 370.4 537.9 373.4 538.0 378.2 538.1 371.4 538.2 377.0 538.3 375.1 538.4 379.8 538.5 380.5 538.6 375.3 538.7 375.6 538.8 384.4 538.9 383.7 539.0 380.8 539.1 384.1 539.2 380.8 539.3 381.3 539.4 377.7 539.5 379.8 539.6 382.5 539.7 381.0 539.8 379.5 539.9 375.1 540.0 376.9 540.1 371.6 540.2 369.9 540.3 369.1 540.4 363.1 540.5 365.0 540.6 356.8 540.7 365.3 540.8 360.6 540.9 356.8 541.0 351.4 541.1 349.6 541.2 348.1 541.3 343.6 541.4 347.0 541.5 345.0 541.6 350.1 541.7 351.2 541.8 351.0 541.9 341.6 542.0 341.1 542.1 349.5 542.2 347.0 542.3 347.3 542.4 346.8 542.5 346.1 542.6 352.8 542.7 349.5 542.8 349.6 542.9 344.9 543.0 349.2 543.1 353.7 543.2 351.9 543.3 353.7 543.4 350.9 543.5 354.0 543.6 350.2 543.7 351.7 543.8 356.0 543.9 358.3 544.0 352.2 544.1 352.8 544.2 353.0 544.3 353.5 544.4 354.4 544.5 357.4 544.6 356.0 544.7 355.2 544.8 356.9 544.9 350.1 545.0 355.6 545.1 362.8 545.2 353.6 545.3 355.3 545.4 358.4 545.5 361.1 545.6 357.4 545.7 355.3 545.8 363.9 545.9 351.9 546.0 356.8 546.1 357.7 546.2 354.8 546.3 368.7 546.4 372.7 546.5 363.8 546.6 369.4 546.7 372.1 546.8 377.3 546.9 376.6 547.0 381.2 547.1 380.5 547.2 378.2 547.3 378.5 547.4 382.5 547.5 378.3 547.6 379.4 547.7 376.9 547.8 379.0 547.9 381.6 548.0 376.3 548.1 374.2 548.2 373.0 548.3 378.3 548.4 371.5 548.5 374.4 548.6 379.3 548.7 371.4 548.8 375.4 548.9 368.6 549.0 367.3 549.1 368.3 549.2 364.5 549.3 360.5 549.4 368.8 549.5 367.4 549.6 371.2 549.7 377.7 549.8 374.2 549.9 368.1 550.0 375.2 550.1 369.0 550.2 368.5 550.3 383.2 550.4 374.2 550.5 371.6 550.6 380.0 550.7 381.2 550.8 384.9 550.9 384.4 551.0 385.8 551.1 390.8 551.2 389.1 551.3 388.7 551.4 389.3 551.5 383.3 551.6 385.6 551.7 379.1 551.8 375.4 551.9 371.6 552.0 373.2 552.1 372.7 552.2 366.8 552.3 358.8 552.4 366.7 552.5 360.0 552.6 362.7 552.7 357.0 552.8 358.5 552.9 354.6 553.0 351.1 553.1 348.3 553.2 351.0 553.3 350.6 553.4 343.7 553.5 340.2 553.6 347.5 553.7 352.5 553.8 341.7 553.9 342.3 554.0 338.4 554.1 336.7 554.2 345.0 554.3 334.2 554.4 339.7 554.5 335.8 554.6 339.5 554.7 342.0 554.8 336.8 554.9 334.7 555.0 338.6 555.1 333.4 555.2 329.1 555.3 340.3 555.4 335.0 555.5 338.2 555.6 345.5 555.7 342.1 555.8 340.9 555.9 346.1 556.0 338.5 556.1 336.8 556.2 339.3 556.3 343.7 556.4 344.5 556.5 341.9 556.6 351.5 556.7 347.6 556.8 345.9 556.9 343.4 557.0 345.8 557.1 347.4 557.2 345.6 557.3 354.6 557.4 353.5 557.5 350.9 557.6 349.6 557.7 344.7 557.8 354.6 557.9 349.7 558.0 356.1 558.1 354.8 558.2 350.0 558.3 355.2 558.4 355.2 558.5 353.5 558.6 352.4 558.7 351.4 558.8 348.8 558.9 350.6 559.0 348.1 559.1 344.2 559.2 342.6 559.3 340.4 559.4 340.7 559.5 341.8 559.6 343.5 559.7 342.2 559.8 337.5 559.9 344.2 560.0 341.5 560.1 344.7 560.2 352.6 560.3 349.0 560.4 338.5 560.5 340.7 560.6 350.1 560.7 344.7 560.8 341.7 560.9 340.7 561.0 345.4 561.1 342.9 561.2 345.0 561.3 343.6 561.4 344.2 561.5 342.3 561.6 340.6 561.7 345.1 561.8 347.4 561.9 339.1 562.0 340.9 562.1 347.3 562.2 336.3 562.3 335.4 562.4 340.0 562.5 340.4 562.6 336.6 562.7 339.6 562.8 334.6 562.9 334.9 563.0 333.3 563.1 333.6 563.2 331.8 563.3 337.4 563.4 336.1 563.5 340.0 563.6 335.2 563.7 334.1 563.8 335.6 563.9 337.3 564.0 340.6 564.1 339.1 564.2 342.4 564.3 343.8 564.4 339.7 564.5 339.8 564.6 349.6 564.7 342.2 564.8 349.3 564.9 341.1 565.0 336.5 565.1 336.1 565.2 336.2 565.3 345.2 565.4 330.6 565.5 328.0 565.6 331.5 565.7 333.6 565.8 339.6 565.9 334.6 566.0 327.2 566.1 334.3 566.2 332.3 566.3 324.9 566.4 327.9 566.5 326.2 566.6 325.2 566.7 324.9 566.8 325.1 566.9 329.1 567.0 326.7 567.1 331.9 567.2 331.9 567.3 325.2 567.4 332.4 567.5 331.2 567.6 335.7 567.7 333.3 567.8 339.7 567.9 339.9 568.0 341.5 568.1 341.9 568.2 336.8 568.3 342.4 568.4 347.6 568.5 348.3 568.6 348.4 568.7 347.5 568.8 348.4 568.9 345.3 569.0 344.9 569.1 351.2 569.2 355.6 569.3 353.1 569.4 353.3 569.5 354.9 569.6 360.2 569.7 354.2 569.8 356.3 569.9 358.1 570.0 360.9 570.1 359.2 570.2 356.5 570.3 356.9 570.4 355.3 570.5 358.6 570.6 362.7 570.7 360.4 570.8 358.7 570.9 356.8 571.0 359.5 571.1 363.4 571.2 363.2 571.3 363.0 571.4 364.5 571.5 366.0 571.6 363.0 571.7 364.7 571.8 356.7 571.9 365.6 572.0 362.9 572.1 365.3 572.2 362.0 572.3 364.6 572.4 362.4 572.5 366.4 572.6 363.8 572.7 371.0 572.8 367.2 572.9 369.2 573.0 367.7 573.1 370.2 573.2 369.3 573.3 369.9 573.4 375.2 573.5 372.3 573.6 371.8 573.7 375.2 573.8 383.3 573.9 378.9 574.0 375.8 574.1 375.5 574.2 375.1 574.3 374.9 574.4 380.5 574.5 377.5 574.6 372.7 574.7 366.1 574.8 368.1 574.9 371.5 575.0 368.7 575.1 371.2 575.2 368.3 575.3 370.4 575.4 369.9 575.5 366.5 575.6 363.4 575.7 366.1 575.8 364.4 575.9 363.2 576.0 366.0 576.1 369.2 576.2 363.7 576.3 363.0 576.4 360.2 576.5 364.0 576.6 363.3 576.7 362.6 576.8 366.4 576.9 361.7 577.0 363.6 577.1 358.6 577.2 360.3 577.3 357.7 577.4 364.3 577.5 367.8 577.6 361.6 577.7 363.3 577.8 368.1 577.9 368.6 578.0 372.8 578.1 363.6 578.2 370.9 578.3 374.5 578.4 373.7 578.5 369.6 578.6 375.6 578.7 373.8 578.8 373.6 578.9 373.0 579.0 373.5 579.1 375.9 579.2 369.7 579.3 366.6 579.4 376.4 579.5 366.9 579.6 375.7 579.7 375.6 579.8 377.1 579.9 373.0 580.0 378.8 580.1 376.5 580.2 376.4 580.3 377.7 580.4 376.3 580.5 384.7 580.6 377.9 580.7 380.4 580.8 378.1 580.9 378.6 581.0 376.9 581.1 374.6 581.2 374.5 581.3 373.6 581.4 372.6 581.5 374.1 581.6 370.7 581.7 371.0 581.8 373.3 581.9 371.5 582.0 373.6 582.1 374.6 582.2 365.8 582.3 373.6 582.4 372.3 582.5 368.8 582.6 370.2 582.7 370.0 582.8 375.6 582.9 373.8 583.0 368.1 583.1 365.4 583.2 359.9 583.3 368.0 583.4 363.9 583.5 361.5 583.6 359.7 583.7 363.5 583.8 363.4 583.9 363.2 584.0 365.2 584.1 367.4 584.2 369.8 584.3 374.9 584.4 372.1 584.5 378.4 584.6 379.1 584.7 378.9 584.8 377.4 584.9 377.8 585.0 370.9 585.1 363.8 585.2 361.7 585.3 367.1 585.4 353.6 585.5 359.1 585.6 364.5 585.7 362.4 585.8 365.7 585.9 371.7 586.0 370.6 586.1 369.7 586.2 373.2 586.3 374.0 586.4 377.0 586.5 378.5 586.6 375.4 586.7 376.3 586.8 376.6 586.9 374.9 587.0 373.6 587.1 377.9 587.2 367.6 587.3 373.6 587.4 377.4 587.5 374.8 587.6 369.8 587.7 370.2 587.8 379.3 587.9 374.9 588.0 371.7 588.1 371.4 588.2 369.4 588.3 370.7 588.4 366.0 588.5 368.5 588.6 367.0 588.7 367.1 588.8 368.6 588.9 359.2 589.0 364.1 589.1 364.6 589.2 364.2 589.3 363.0 589.4 364.0 589.5 365.7 589.6 360.4 589.7 362.1 589.8 363.5 589.9 361.1 590.0 365.5 590.1 360.6 590.2 367.2 590.3 364.8 590.4 369.0 590.5 369.5 590.6 362.7 590.7 369.2 590.8 368.4 590.9 366.7 591.0 364.7 591.1 366.9 591.2 364.5 591.3 365.0 591.4 364.6 591.5 364.4 591.6 363.0 591.7 359.0 591.8 363.6 591.9 355.6 592.0 364.4 592.1 363.4 592.2 363.8 592.3 362.8 592.4 365.7 592.5 366.6 592.6 363.7 592.7 363.6 592.8 362.8 592.9 362.3 593.0 367.8 593.1 366.5 593.2 370.1 593.3 359.6 593.4 359.8 593.5 362.7 593.6 359.6 593.7 361.0 593.8 356.1 593.9 361.6 594.0 355.7 594.1 356.5 594.2 357.8 594.3 349.3 594.4 351.5 594.5 348.9 594.6 354.4 594.7 345.6 594.8 349.2 594.9 348.2 595.0 352.6 595.1 354.5 595.2 350.0 595.3 356.3 595.4 353.0 595.5 347.0 595.6 351.2 595.7 349.0 595.8 355.2 595.9 354.6 596.0 354.6 596.1 351.4 596.2 353.9 596.3 351.3 596.4 353.5 596.5 356.8 596.6 350.2 596.7 354.1 596.8 348.6 596.9 345.8 597.0 347.1 597.1 341.5 597.2 351.7 597.3 348.1 597.4 344.4 597.5 351.0 597.6 346.2 597.7 352.8 597.8 354.5 597.9 354.2 598.0 348.1 598.1 351.4 598.2 356.5 598.3 354.9 598.4 355.3 598.5 361.3 598.6 357.4 598.7 353.7 598.8 351.1 598.9 353.0 599.0 350.7 599.1 353.1 599.2 356.2 599.3 352.1 599.4 356.5 599.5 355.0 599.6 358.5 599.7 352.4 599.8 353.7 599.9 355.8 600.0 356.8 600.1 355.0 600.2 346.7 600.3 353.0 600.4 347.4 600.5 352.4 600.6 349.3 600.7 348.9 600.8 349.8 600.9 352.6 601.0 351.5 601.1 354.1 601.2 353.0 601.3 352.3 601.4 358.3 601.5 361.2 601.6 353.3 601.7 356.6 601.8 352.4 601.9 357.7 602.0 355.5 602.1 363.0 602.2 360.8 602.3 361.1 602.4 364.5 602.5 362.8 602.6 355.0 602.7 368.3 602.8 369.2 602.9 365.1 603.0 368.7 603.1 366.6 603.2 360.6 603.3 360.4 603.4 370.2 603.5 368.6 603.6 371.1 603.7 372.2 603.8 365.7 603.9 368.8 604.0 368.7 604.1 369.7 604.2 369.7 604.3 367.2 604.4 370.5 604.5 364.2 604.6 372.3 604.7 370.1 604.8 369.9 604.9 374.0 605.0 374.7 605.1 375.3 605.2 372.7 605.3 373.7 605.4 375.7 605.5 376.4 605.6 375.9 605.7 374.3 605.8 378.7 605.9 376.3 606.0 378.7 606.1 376.0 606.2 372.3 606.3 380.4 606.4 381.8 606.5 380.4 606.6 384.2 606.7 382.3 606.8 381.6 606.9 384.9 607.0 381.1 607.1 376.8 607.2 378.4 607.3 375.6 607.4 372.9 607.5 377.0 607.6 373.2 607.7 371.0 607.8 371.3 607.9 376.9 608.0 377.2 608.1 378.4 608.2 372.9 608.3 373.5 608.4 380.2 608.5 382.5 608.6 386.2 608.7 386.6 608.8 387.8 608.9 381.5 609.0 385.9 609.1 382.5 609.2 385.0 609.3 383.0 609.4 375.0 609.5 379.6 609.6 382.9 609.7 381.5 609.8 380.0 609.9 374.9 610.0 374.7 610.1 378.2 610.2 371.8 610.3 377.7 610.4 374.4 610.5 377.8 610.6 378.8 610.7 374.0 610.8 371.4 610.9 371.5 611.0 373.8 611.1 365.3 611.2 374.5 611.3 372.8 611.4 376.7 611.5 380.5 611.6 367.8 611.7 371.4 611.8 375.6 611.9 371.6 612.0 377.0 612.1 383.8 612.2 374.5 612.3 373.7 612.4 374.2 612.5 377.1 612.6 369.0 612.7 373.0 612.8 370.1 612.9 368.3 613.0 361.7 613.1 365.8 613.2 365.1 613.3 359.8 613.4 371.2 613.5 363.6 613.6 360.1 613.7 363.3 613.8 361.0 613.9 361.4 614.0 357.2 614.1 363.5 614.2 361.3 614.3 360.6 614.4 365.6 614.5 360.6 614.6 366.0 614.7 366.7 614.8 369.5 614.9 371.3 615.0 369.3 615.1 370.1 615.2 366.9 615.3 362.7 615.4 373.5 615.5 374.2 615.6 368.3 615.7 365.9 615.8 370.2 615.9 370.5 616.0 376.3 616.1 378.6 616.2 373.2 616.3 369.8 616.4 374.9 616.5 370.6 616.6 365.7 616.7 367.2 616.8 369.6 616.9 367.7 617.0 360.8 617.1 362.3 617.2 364.2 617.3 367.8 617.4 365.7 617.5 369.3 617.6 360.1 617.7 363.3 617.8 359.9 617.9 367.5 618.0 358.0 618.1 362.2 618.2 368.1 618.3 363.7 618.4 367.5 618.5 364.4 618.6 367.6 618.7 375.7 618.8 366.1 618.9 369.6 619.0 372.4 619.1 373.6 619.2 378.8 619.3 370.0 619.4 378.9 619.5 377.3 619.6 375.1 619.7 376.8 619.8 375.5 619.9 382.1 620.0 379.6 620.1 376.1 620.2 377.9 620.3 368.7 620.4 372.9 620.5 368.0 620.6 371.9 620.7 369.3 620.8 366.5 620.9 365.7 621.0 366.2 621.1 366.3 621.2 367.0 621.3 368.2 621.4 371.2 621.5 368.0 621.6 364.4 621.7 364.0 621.8 363.4 621.9 366.2 622.0 361.7 622.1 366.8 622.2 361.0 622.3 360.2 622.4 363.2 622.5 368.5 622.6 366.9 622.7 363.1 622.8 360.5 622.9 369.7 623.0 371.2 623.1 366.1 623.2 363.7 623.3 367.0 623.4 365.8 623.5 366.6" fill="none" stroke="#000" stroke-width="0.45"/>
<path d="M60.4 408.3 60.5 408.5 60.7 416.9 60.8 403.4 60.9 413.4 61.1 403.7 61.2 419.3 61.3 415.2 61.4 420.6 61.6 412.1 61.7 416.4 61.8 413.3 62.0 411.3 62.1 415.4 62.2 409.1 62.4 413.3 62.5 418.2 62.6 415.4 62.7 413.3 62.9 425.3 63.0 415.6 63.1 412.7 63.3 416.3 63.4 413.2 63.5 413.9 63.7 414.2 63.8 425.2 63.9 416.0 64.0 416.8 64.2 419.2 64.3 425.5 64.4 415.2 64.6 413.5 64.7 427.4 64.8 409.8 65.0 414.9 65.1 419.7 65.2 427.2 65.3 412.4 65.5 405.9 65.6 420.0 65.7 414.6 65.9 415.3 66.0 419.3 66.1 418.3 66.2 418.7 66.4 415.5 66.5 423.5 66.6 424.5 66.8 417.8 66.9 415.7 67.0 421.2 67.2 420.1 67.3 413.2 67.4 416.0 67.5 423.0 67.7 417.8 67.8 416.8 67.9 419.4 68.1 418.3 68.2 418.5 68.3 409.7 68.5 426.7 68.6 419.7 68.7 414.8 68.8 423.4 69.0 420.4 69.1 419.2 69.2 424.0 69.4 429.7 69.5 421.9 69.6 426.7 69.8 429.4 69.9 414.9 70.0 417.2 70.1 423.3 70.3 411.9 70.4 418.7 70.5 425.9 70.7 424.8 70.8 422.7 70.9 411.4 71.1 430.9 71.2 422.7 71.3 423.7 71.4 422.5 71.6 412.3 71.7 413.6 71.8 414.7 72.0 429.1 72.1 416.5 72.2 419.2 72.4 419.2 72.5 423.0 72.6 422.7 72.7 421.7 72.9 414.7 73.0 409.5 73.1 421.3 73.3 421.8 73.4 426.3 73.5 420.2 73.7 417.9 73.8 422.6 73.9 413.6 74.0 416.0 74.2 416.1 74.3 422.1 74.4 430.5 74.6 424.4 74.7 426.1 74.8 422.0 75.0 422.2 75.1 418.9 75.2 419.7 75.3 410.0 75.5 415.5 75.6 415.2 75.7 425.0 75.9 424.2 76.0 426.4 76.1 428.4 76.3 419.8 76.4 426.1 76.5 430.3 76.6 421.3 76.8 426.3 76.9 420.6 77.0 414.0 77.2 422.0 77.3 417.7 77.4 422.0 77.6 419.4 77.7 423.0 77.8 411.7 77.9 431.2 78.1 427.9 78.2 420.0 78.3 417.5 78.5 421.7 78.6 424.8 78.7 423.7 78.9 423.6 79.0 412.8 79.1 416.7 79.2 428.1 79.4 423.0 79.5 414.9 79.6 418.0 79.8 415.3 79.9 417.3 80.0 427.4 80.2 420.9 80.3 427.0 80.4 422.7 80.5 414.7 80.7 418.7 80.8 432.3 80.9 418.0 81.1 416.7 81.2 427.3 81.3 421.9 81.5 421.4 81.6 428.2 81.7 413.1 81.8 423.2 82.0 416.3 82.1 414.6 82.2 417.3 82.4 426.5 82.5 420.4 82.6 412.4 82.8 415.8 82.9 428.1 83.0 425.7 83.1 415.7 83.3 431.8 83.4 419.0 83.5 415.1 83.7 420.0 83.8 425.0 83.9 428.1 84.1 425.3 84.2 418.4 84.3 417.8 84.4 413.5 84.6 420.0 84.7 417.5 84.8 421.4 85.0 414.2 85.1 417.7 85.2 415.9 85.4 414.4 85.5 414.4 85.6 415.2 85.7 414.3 85.9 422.5 86.0 420.3 86.1 413.6 86.3 422.1 86.4 421.0 86.5 426.5 86.7 418.7 86.8 418.6 86.9 416.2 87.0 420.0 87.2 421.7 87.3 420.1 87.4 418.1 87.6 421.9 87.7 419.6 87.8 420.3 88.0 414.7 88.1 420.0 88.2 414.2 88.3 414.9 88.5 419.6 88.6 428.7 88.7 423.4 88.9 418.7 89.0 417.8 89.1 423.2 89.3 425.0 89.4 424.2 89.5 417.5 89.6 419.2 89.8 416.7 89.9 416.9 90.0 414.1 90.2 416.9 90.3 407.9 90.4 412.3 90.6 419.9 90.7 413.5 90.8 420.4 90.9 411.7 91.1 416.0 91.2 419.5 91.3 412.7 91.5 414.2 91.6 428.5 91.7 414.2 91.9 414.1 92.0 414.6 92.1 417.4 92.2 417.1 92.4 421.8 92.5 420.8 92.6 415.2 92.8 415.3 92.9 410.3 93.0 409.8 93.2 413.4 93.3 420.2 93.4 417.3 93.5 420.4 93.7 421.0 93.8 415.8 93.9 426.4 94.1 414.0 94.2 413.4 94.3 414.3 94.5 421.6 94.6 415.6 94.7 412.7 94.8 418.1 95.0 421.4 95.1 415.5 95.2 414.8 95.4 421.2 95.5 420.7 95.6 420.6 95.8 412.6 95.9 417.5 96.0 417.9 96.1 407.8 96.3 421.9 96.4 416.8 96.5 414.7 96.7 427.0 96.8 417.1 96.9 413.1 97.1 416.2 97.2 419.2 97.3 420.4 97.4 416.3 97.6 412.5 97.7 413.4 97.8 412.8 98.0 411.8 98.1 416.6 98.2 414.5 98.4 417.0 98.5 412.9 98.6 412.8 98.7 416.0 98.9 415.3 99.0 422.4 99.1 412.7 99.3 418.0 99.4 416.9 99.5 410.9 99.7 420.5 99.8 417.9 99.9 407.3 100.0 420.0 100.2 421.6 100.3 413.5 100.4 425.3 100.6 418.1 100.7 412.0 100.8 420.0 101.0 415.7 101.1 411.2 101.2 407.4 101.3 418.7 101.5 414.1 101.6 420.6 101.7 419.4 101.9 415.2 102.0 415.2 102.1 426.0 102.3 425.8 102.4 421.3 102.5 416.1 102.6 413.2 102.8 416.1 102.9 425.7 103.0 420.1 103.2 416.6 103.3 412.2 103.4 418.8 103.6 414.0 103.7 418.2 103.8 421.7 103.9 423.3 104.1 418.9 104.2 416.7 104.3 419.5 104.5 426.9 104.6 420.2 104.7 412.0 104.9 425.8 105.0 419.8 105.1 429.7 105.2 416.5 105.4 418.3 105.5 417.4 105.6 420.6 105.8 416.2 105.9 412.1 106.0 410.0 106.2 418.5 106.3 416.7 106.4 416.4 106.5 429.1 106.7 423.0 106.8 424.4 106.9 417.0 107.1 420.8 107.2 418.5 107.3 418.5 107.5 423.0 107.6 422.4 107.7 421.1 107.8 420.4 108.0 413.0 108.1 416.3 108.2 421.6 108.4 418.2 108.5 416.3 108.6 421.6 108.8 415.7 108.9 416.9 109.0 424.2 109.1 418.5 109.3 426.9 109.4 422.7 109.5 424.1 109.7 425.6 109.8 410.3 109.9 420.1 110.1 414.5 110.2 418.4 110.3 420.1 110.4 426.5 110.6 420.5 110.7 428.4 110.8 418.3 111.0 420.6 111.1 421.3 111.2 425.3 111.4 420.7 111.5 418.1 111.6 419.5 111.7 414.5 111.9 427.0 112.0 424.6 112.1 423.1 112.3 422.4 112.4 418.3 112.5 419.3 112.7 425.0 112.8 417.5 112.9 417.6 113.0 428.6 113.2 428.6 113.3 422.7 113.4 423.8 113.6 422.2 113.7 428.0 113.8 419.3 114.0 421.8 114.1 423.7 114.2 428.2 114.3 420.3 114.5 422.6 114.6 419.2 114.7 418.5 114.9 418.5 115.0 422.0 115.1 425.7 115.3 418.4 115.4 418.9 115.5 419.8 115.6 423.3 115.8 424.9 115.9 415.9 116.0 423.4 116.2 417.2 116.3 425.1 116.4 417.4 116.6 416.8 116.7 418.6 116.8 421.6 116.9 417.3 117.1 422.9 117.2 422.6 117.3 422.3 117.5 423.2 117.6 426.0 117.7 418.5 117.9 421.8 118.0 421.5 118.1 412.1 118.2 423.3 118.4 417.8 118.5 417.9 118.6 419.1 118.8 421.5 118.9 422.5 119.0 423.1 119.2 417.5 119.3 423.8 119.4 422.4 119.5 418.6 119.7 420.2 119.8 423.9 119.9 422.1 120.1 423.2 120.2 420.4 120.3 425.0 120.5 429.9 120.6 421.6 120.7 412.1 120.8 427.3 121.0 416.6 121.1 412.8 121.2 408.1 121.4 420.9 121.5 423.8 121.6 423.3 121.8 416.8 121.9 425.1 122.0 418.0 122.1 415.5 122.3 418.5 122.4 419.0 122.5 418.2 122.7 419.7 122.8 407.7 122.9 424.9 123.1 414.9 123.2 420.4 123.3 413.6 123.4 418.0 123.6 416.3 123.7 409.7 123.8 418.7 124.0 419.8 124.1 411.7 124.2 407.2 124.4 413.8 124.5 412.8 124.6 417.2 124.7 416.5 124.9 424.0 125.0 419.5 125.1 415.3 125.3 417.2 125.4 405.4 125.5 412.2 125.7 412.0 125.8 415.7 125.9 417.7 126.0 417.1 126.2 420.4 126.3 412.9 126.4 417.4 126.6 415.3 126.7 416.0 126.8 417.3 127.0 414.5 127.1 416.7 127.2 415.6 127.3 420.4 127.5 415.1 127.6 417.0 127.7 426.5 127.9 418.3 128.0 417.8 128.1 420.3 128.3 410.7 128.4 418.5 128.5 418.7 128.6 417.2 128.8 419.6 128.9 418.7 129.0 420.5 129.2 412.1 129.3 416.9 129.4 412.4 129.6 420.6 129.7 415.4 129.8 408.8 129.9 415.2 130.1 410.1 130.2 419.1 130.3 413.0 130.5 404.5 130.6 412.7 130.7 419.1 130.9 415.9 131.0 411.4 131.1 417.3 131.2 416.9 131.4 420.9 131.5 418.3 131.6 415.8 131.8 410.4 131.9 415.3 132.0 415.4 132.2 414.1 132.3 416.1 132.4 408.7 132.5 416.8 132.7 414.3 132.8 415.9 132.9 413.9 133.1 413.0 133.2 415.6 133.3 418.1 133.5 413.0 133.6 416.0 133.7 411.1 133.8 416.6 134.0 414.8 134.1 408.9 134.2 420.1 134.4 410.7 134.5 415.2 134.6 408.9 134.8 407.0 134.9 418.0 135.0 408.6 135.1 405.6 135.3 414.1 135.4 408.1 135.5 414.3 135.7 423.6 135.8 413.5 135.9 417.0 136.1 417.9 136.2 416.5 136.3 414.9 136.4 422.4 136.6 415.2 136.7 417.2 136.8 416.1 137.0 409.8 137.1 417.2 137.2 416.0 137.4 418.7 137.5 419.0 137.6 423.0 137.7 407.3 137.9 413.4 138.0 413.8 138.1 411.9 138.3 417.6 138.4 415.2 138.5 416.0 138.7 407.8 138.8 410.7 138.9 414.6 139.0 412.7 139.2 411.8 139.3 413.9 139.4 413.0 139.6 409.2 139.7 421.5 139.8 410.7 140.0 416.5 140.1 416.1 140.2 417.7 140.3 410.5 140.5 408.4 140.6 414.8 140.7 413.8 140.9 401.7 141.0 401.3 141.1 409.7 141.3 410.2 141.4 410.6 141.5 413.6 141.6 407.1 141.8 422.4 141.9 415.3 142.0 416.9 142.2 412.1 142.3 401.3 142.4 411.6 142.6 407.9 142.7 412.2 142.8 409.6 142.9 413.0 143.1 405.8 143.2 407.9 143.3 409.5 143.5 405.9 143.6 407.0 143.7 411.7 143.9 417.6 144.0 407.7 144.1 412.2 144.2 403.2 144.4 406.3 144.5 409.8 144.6 410.8 144.8 403.5 144.9 410.8 145.0 408.6 145.2 413.9 145.3 412.1 145.4 410.2 145.5 405.9 145.7 408.8 145.8 403.6 145.9 403.7 146.1 399.0 146.2 401.4 146.3 401.5 146.5 406.7 146.6 407.6 146.7 400.9 146.8 406.5 147.0 408.7 147.1 411.0 147.2 406.3 147.4 407.6 147.5 404.9 147.6 410.7 147.8 399.3 147.9 407.4 148.0 395.8 148.1 414.0 148.3 410.3 148.4 396.5 148.5 403.6 148.7 399.5 148.8 397.8 148.9 403.9 149.1 401.7 149.2 410.3 149.3 403.2 149.4 400.4 149.6 405.0 149.7 407.1 149.8 408.9 150.0 407.4 150.1 398.3 150.2 401.3 150.4 404.2 150.5 401.3 150.6 408.5 150.7 403.7 150.9 405.0 151.0 403.7 151.1 405.6 151.3 398.7 151.4 415.1 151.5 403.1 151.7 402.4 151.8 397.7 151.9 405.5 152.0 399.7 152.2 407.5 152.3 411.5 152.4 408.9 152.6 404.2 152.7 412.1 152.8 405.5 153.0 406.2 153.1 406.8 153.2 404.5 153.3 408.6 153.5 401.2 153.6 398.8 153.7 412.3 153.9 403.7 154.0 405.5 154.1 408.6 154.3 405.1 154.4 401.9 154.5 406.5 154.6 403.1 154.8 410.0 154.9 405.6 155.0 406.5 155.2 411.2 155.3 400.8 155.4 401.1 155.6 411.2 155.7 413.7 155.8 408.5 155.9 405.0 156.1 413.8 156.2 410.7 156.3 413.0 156.5 400.2 156.6 407.9 156.7 403.8 156.9 403.5 157.0 411.1 157.1 411.8 157.2 406.4 157.4 407.5 157.5 414.8 157.6 411.6 157.8 408.1 157.9 411.0 158.0 409.2 158.2 403.0 158.3 406.4 158.4 410.0 158.5 411.6 158.7 403.4 158.8 405.2 158.9 406.2 159.1 402.0 159.2 413.9 159.3 411.0 159.5 414.9 159.6 399.1 159.7 405.3 159.8 417.2 160.0 402.7 160.1 400.8 160.2 410.1 160.4 416.2 160.5 412.0 160.6 404.8 160.8 411.6 160.9 411.0 161.0 410.4 161.1 411.0 161.3 413.0 161.4 414.5 161.5 415.5 161.7 414.1 161.8 408.7 161.9 401.0 162.1 411.8 162.2 402.6 162.3 419.7 162.4 404.2 162.6 401.1 162.7 401.0 162.8 411.1 163.0 410.6 163.1 412.2 163.2 410.5 163.4 405.6 163.5 412.8 163.6 405.9 163.7 402.2 163.9 413.1 164.0 411.4 164.1 404.7 164.3 407.7 164.4 413.5 164.5 413.0 164.7 403.9 164.8 413.7 164.9 397.7 165.0 409.0 165.2 410.3 165.3 408.0 165.4 409.0 165.6 401.2 165.7 407.8 165.8 410.6 166.0 404.1 166.1 408.9 166.2 407.5 166.3 398.0 166.5 405.4 166.6 410.7 166.7 401.0 166.9 408.1 167.0 409.5 167.1 402.2 167.3 406.8 167.4 411.9 167.5 411.1 167.6 403.3 167.8 412.4 167.9 409.3 168.0 408.2 168.2 414.5 168.3 410.9 168.4 409.2 168.6 411.9 168.7 410.5 168.8 413.2 168.9 406.8 169.1 399.2 169.2 414.2 169.3 410.8 169.5 409.4 169.6 407.2 169.7 406.5 169.9 407.3 170.0 402.5 170.1 410.2 170.2 407.0 170.4 402.2 170.5 407.7 170.6 404.9 170.8 406.2 170.9 408.7 171.0 417.2 171.2 401.3 171.3 407.9" fill="none" stroke="#000" stroke-width="0.45"/>
<path d="M261.5 375.3 262.4 426.1 263.0 383.0 263.1 425.9 263.3 369.8 264.2 431.4 265.2 369.8 265.6 425.1 265.9 385.1 266.5 433.4 267.4 363.5 268.0 432.8 268.8 379.1 269.2 429.0 269.6 371.3 270.0 435.2 270.6 423.2 271.0 431.3 271.4 375.3 271.8 425.1 272.1 388.1 272.5 429.8 272.8 382.3 273.4 428.1 273.9 408.3 274.2 425.7 274.7 392.1 275.1 426.0 275.4 419.9 275.8 431.1 276.1 328.0 277.0 434.2 278.0 396.1 279.0 434.6 279.8 352.7 280.1 433.0 280.5 409.4 280.8 431.6 281.3 377.6 281.7 435.3 282.4 398.1 282.7 434.2 283.1 391.7 283.6 435.0 284.2 402.1 284.9 428.7 285.3 420.1 285.7 432.6 286.4 390.8 287.1 431.4 287.9 391.1 288.3 426.2 288.9 402.3 289.7 430.3 290.0 384.6 290.6 434.4 291.1 373.7 291.7 431.6 292.6 383.1 293.2 426.4 294.1 385.1 294.7 435.0 295.5 390.1 296.5 429.6 297.0 408.2 297.3 429.5 297.7 383.8 298.4 429.6 299.6 351.2 300.5 426.1 301.0 398.1 301.4 432.5 301.8 394.2 302.1 433.5 302.5 396.1 302.9 429.6 303.2 415.3 303.9 431.8 304.3 367.5 305.1 426.6 306.2 396.1 307.1 426.2 307.6 389.3 308.0 426.6 308.3 413.6 309.0 432.9 309.4 394.1 310.0 431.5 310.5 376.8 310.9 435.0 311.6 385.4 312.4 432.5 313.5 418.8 313.9 425.1 314.2 404.1 314.6 425.3 314.9 423.1 316.1 425.1 316.8 371.4 317.3 432.9 317.9 394.1 318.5 433.2 319.3 373.8 319.8 428.6 320.4 389.1 321.1 426.3 321.5 398.0 322.1 428.3 322.6 398.1 323.5 434.4 324.1 365.3 324.9 425.6 325.6 396.1 326.2 427.3 326.6 388.4 327.0 433.4 327.4 394.1 328.2 431.7 328.8 365.3 329.7 424.9 330.3 390.1 331.2 431.0 332.1 390.1 332.6 427.6 332.9 386.5 333.3 433.9 334.0 400.1 334.5 425.6 335.4 398.0 336.3 433.7 336.9 398.1 337.8 424.8 338.4 384.7 338.8 431.5 339.1 406.9 339.5 433.9 339.8 398.1 340.5 424.9 341.7 394.9 342.7 429.7 343.5 373.1 344.2 430.6 344.6 415.1 345.3 426.5 345.7 378.5 346.3 432.6 347.1 380.1 347.8 432.7 348.6 373.8 349.2 432.5 349.7 371.5 350.2 433.9 350.8 347.4" fill="none" stroke="#222" stroke-width="0.45"/>
<path d="M261.5 430.0 261.9 429.0 262.2 425.6 262.6 423.0 263.0 422.3 263.3 424.8 263.7 425.6 264.1 427.5 264.4 431.4 264.8 431.6 265.2 428.1 265.5 427.8 265.9 429.0 266.3 431.7 266.6 430.8 267.0 431.5 267.4 430.4 267.7 428.5 268.1 434.5 268.5 432.5 268.8 434.7 269.2 434.8 269.6 434.8 269.9 429.6 270.3 427.6 270.6 426.9 271.0 429.6 271.4 432.9 271.7 432.3 272.1 430.4 272.5 430.0 272.8 427.8 273.2 429.1 273.6 424.5 273.9 424.6 274.3 421.2 274.7 423.7 275.0 426.3 275.4 429.5 275.8 427.2 276.1 425.2 276.5 426.3 276.9 426.3 277.2 428.0 277.6 429.4 278.0 430.0 278.3 434.3 278.7 434.7 279.1 432.3 279.4 430.6 279.8 427.2 280.2 426.3 280.5 426.2 280.9 427.2 281.3 433.6 281.6 431.6 282.0 432.8 282.4 430.0 282.7 430.3 283.1 430.6 283.5 431.3 283.8 431.1 284.2 434.8 284.6 434.8 284.9 429.4 285.3 428.1 285.7 429.6 286.0 430.2 286.4 430.6 286.8 421.7 287.1 423.3 287.5 425.5 287.9 428.6 288.2 434.7 288.6 432.1 288.9 427.3 289.3 425.6 289.7 426.3 290.0 428.9 290.4 431.9 290.8 430.5 291.1 430.9 291.5 433.0 291.9 427.2 292.2 430.3 292.6 431.1 293.0 434.8 293.3 428.1 293.7 428.9 294.1 429.1 294.4 428.3 294.8 430.7 295.2 431.6 295.5 429.8 295.9 431.6 296.3 429.7 296.6 426.3 297.0 425.4 297.4 423.2 297.7 422.8 298.1 420.8 298.5 423.3 298.8 424.5 299.2 429.1 299.6 429.5 299.9 431.1 300.3 430.4 300.7 432.5 301.0 430.3 301.4 423.2 301.8 427.5 302.1 426.6 302.5 425.9 302.9 429.0 303.2 429.7 303.6 430.8 304.0 428.9 304.3 430.5 304.7 423.3 305.1 423.3 305.4 422.7 305.8 419.7 306.2 419.9 306.5 423.8 306.9 424.9 307.2 426.4 307.6 426.8 308.0 425.2 308.3 431.7 308.7 434.8 309.1 433.3 309.4 430.4 309.8 431.1 310.2 430.7 310.5 427.2 310.9 426.2 311.3 427.6 311.6 429.0 312.0 432.7 312.4 430.0 312.7 429.3 313.1 431.7 313.5 429.4 313.8 430.2 314.2 430.6 314.6 434.2 314.9 429.9 315.3 431.5 315.7 429.8 316.0 429.0 316.4 430.5 316.8 430.1 317.1 430.4 317.5 430.6 317.9 429.5 318.2 431.1 318.6 428.6 319.0 428.6 319.3 431.9 319.7 429.8 320.1 430.6 320.4 428.9 320.8 434.8 321.2 431.8 321.5 434.8 321.9 433.8 322.3 423.9 322.6 424.4 323.0 423.8 323.4 427.9 323.7 431.4 324.1 430.9 324.5 429.3 324.8 429.6 325.2 431.3 325.6 432.8 325.9 432.5 326.3 427.2 326.6 428.1 327.0 429.6 327.4 430.2 327.7 432.3 328.1 434.6 328.5 432.1 328.8 427.5 329.2 426.9 329.6 431.4 329.9 426.6 330.3 427.0 330.7 423.0 331.0 425.8 331.4 430.6 331.8 429.4 332.1 429.7 332.5 432.3 332.9 432.9 333.2 432.4 333.6 433.4 334.0 430.1 334.3 428.9 334.7 430.1 335.1 430.7 335.4 427.7 335.8 427.3 336.2 431.0 336.5 429.6 336.9 424.9 337.3 425.8 337.6 429.3 338.0 425.3 338.4 420.4 338.7 423.4 339.1 431.5 339.5 434.2 339.8 427.3 340.2 428.3 340.6 426.7 340.9 426.1 341.3 426.7 341.7 423.1 342.0 424.8 342.4 424.7 342.8 425.4 343.1 426.0 343.5 420.7 343.9 426.6 344.2 430.4 344.6 426.8 344.9 430.7 345.3 429.3 345.7 431.6 346.0 427.9 346.4 428.1 346.8 426.5 347.1 429.1 347.5 429.2 347.9 434.8 348.2 430.1 348.6 428.4 349.0 428.5 349.3 428.4 349.7 429.4 350.1 429.2 350.4 424.1 350.8 427.4 351.2 429.1" fill="none" stroke="#d83030" stroke-width="0.5"/>
</svg>
<div class="lbl" style="left:1px;top:235px">A</div>
<div class="lbl" style="left:231px;top:235px">B</div>
<div class="lbl" style="left:462px;top:235px">C</div>
<div class="lbl" style="left:1px;top:501px">D</div>
<div class="lbl" style="left:231px;top:501px">E</div>
<div class="lbl" style="left:462px;top:501px">F</div>
</body></html>
